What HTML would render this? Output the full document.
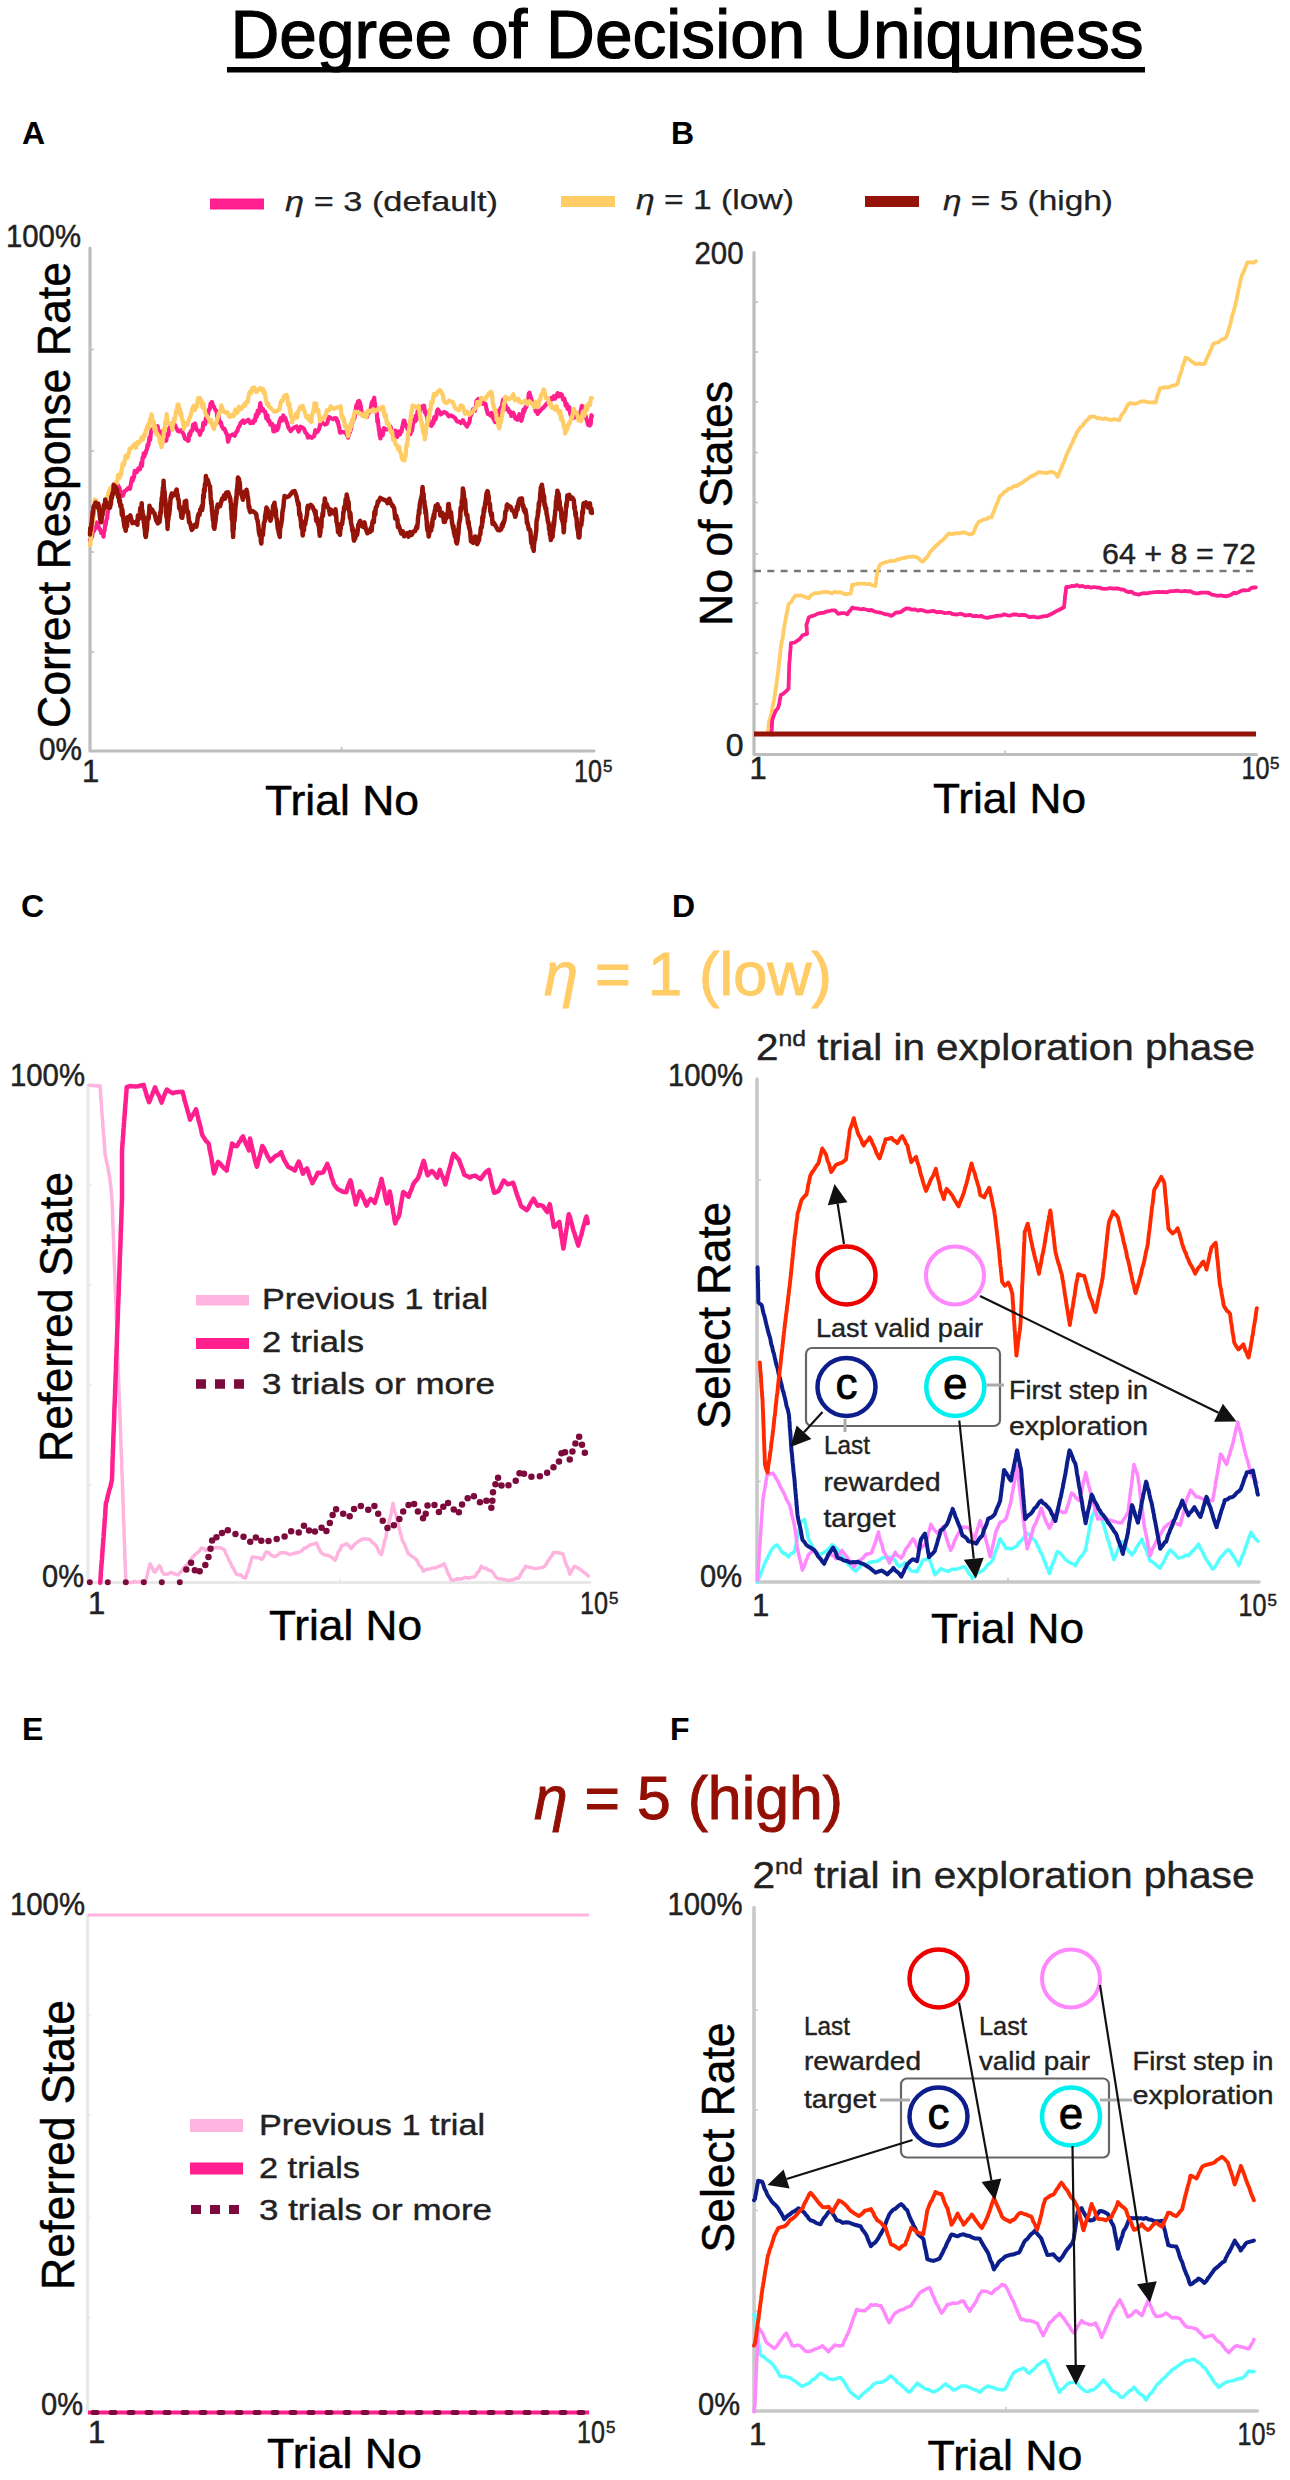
<!DOCTYPE html>
<html><head><meta charset="utf-8"><style>
html,body{margin:0;padding:0;background:#fff;}
svg{display:block;font-family:"Liberation Sans", sans-serif;}
</style></head><body>
<svg width="1290" height="2480" viewBox="0 0 1290 2480">
<rect width="1290" height="2480" fill="#fff"/>
<text x="230.5" y="58" font-size="68" fill="#000" text-anchor="start" textLength="913" lengthAdjust="spacingAndGlyphs" stroke="#000" stroke-width="1.2">Degree of Decision Uniquness</text>
<rect x="227" y="67" width="918" height="5.5" fill="#000"/>
<text x="22" y="144" font-size="32" fill="#000" text-anchor="start" font-weight="bold">A</text>
<text x="671" y="144" font-size="32" fill="#000" text-anchor="start" font-weight="bold">B</text>
<text x="21" y="917" font-size="32" fill="#000" text-anchor="start" font-weight="bold">C</text>
<text x="672" y="917" font-size="32" fill="#000" text-anchor="start" font-weight="bold">D</text>
<text x="22" y="1740" font-size="32" fill="#000" text-anchor="start" font-weight="bold">E</text>
<text x="670" y="1740" font-size="32" fill="#000" text-anchor="start" font-weight="bold">F</text>
<rect x="210" y="198.5" width="54" height="11" fill="#ff1f8e"/>
<text x="285" y="211" font-size="28" fill="#222" text-anchor="start" textLength="213" lengthAdjust="spacingAndGlyphs" stroke="#222" stroke-width="0.25"><tspan font-style="italic">η</tspan> = 3 (default)</text>
<rect x="561" y="196" width="54" height="11" fill="#ffcc66"/>
<text x="636" y="209" font-size="28" fill="#222" text-anchor="start" textLength="158" lengthAdjust="spacingAndGlyphs" stroke="#222" stroke-width="0.25"><tspan font-style="italic">η</tspan> = 1 (low)</text>
<rect x="865" y="196" width="54" height="11" fill="#951409"/>
<text x="943" y="209.5" font-size="28" fill="#222" text-anchor="start" textLength="170" lengthAdjust="spacingAndGlyphs" stroke="#222" stroke-width="0.25"><tspan font-style="italic">η</tspan> = 5 (high)</text>
<path d="M90,248 L90,751 L594,751" fill="none" stroke="#bdbdbd" stroke-width="3.2" stroke-linejoin="round" stroke-linecap="round"/>
<line x1="90" y1="349.5" x2="94" y2="349.5" stroke="#bdbdbd" stroke-width="1.5" stroke-linecap="butt"/>
<line x1="90" y1="451" x2="94" y2="451" stroke="#bdbdbd" stroke-width="1.5" stroke-linecap="butt"/>
<line x1="90" y1="552" x2="94" y2="552" stroke="#bdbdbd" stroke-width="1.5" stroke-linecap="butt"/>
<line x1="90" y1="652" x2="94" y2="652" stroke="#bdbdbd" stroke-width="1.5" stroke-linecap="butt"/>
<line x1="341.5" y1="751" x2="341.5" y2="747" stroke="#bdbdbd" stroke-width="1.5" stroke-linecap="butt"/>
<text x="81" y="247" font-size="32" fill="#222" text-anchor="end" textLength="75" lengthAdjust="spacingAndGlyphs" stroke="#222" stroke-width="0.5">100%</text>
<text x="82" y="760" font-size="32" fill="#222" text-anchor="end" textLength="43" lengthAdjust="spacingAndGlyphs" stroke="#222" stroke-width="0.5">0%</text>
<text x="82" y="782" font-size="31" fill="#222" text-anchor="start" stroke="#222" stroke-width="0.5">1</text>
<text x="574" y="782" font-size="31" fill="#222" text-anchor="start" textLength="28" lengthAdjust="spacingAndGlyphs" stroke="#222" stroke-width="0.5">10</text>
<text x="603" y="772" font-size="17" fill="#222" text-anchor="start" stroke="#222" stroke-width="0.5">5</text>
<text x="265" y="814.5" font-size="43" fill="#000" text-anchor="start" textLength="154" lengthAdjust="spacingAndGlyphs" stroke="#000" stroke-width="0.5">Trial No</text>
<text x="69.5" y="728" font-size="46" fill="#000" text-anchor="start" textLength="466" lengthAdjust="spacingAndGlyphs" transform="rotate(-90 69.5 728)" stroke="#000" stroke-width="0.5">Correct Response Rate</text>
<polyline points="90.0,540.2 91.0,538.6 92.1,536.5 93.1,529.1 94.1,530.9 95.1,528.0 96.1,527.1 97.1,522.5 98.1,525.0 99.1,528.8 100.1,529.2 101.1,532.9 102.1,531.9 103.1,534.3 103.5,536.7 103.9,532.6 104.2,531.3 104.6,530.8 105.0,526.1 105.3,522.0 105.7,525.1 106.1,521.7 106.4,520.2 106.8,517.9 107.2,518.3 107.5,512.1 107.9,512.8 108.3,508.1 108.6,507.5 109.0,506.1 109.4,501.6 109.7,498.0 110.1,498.7 110.5,498.4 110.8,495.5 111.2,492.5 112.0,491.8 112.8,486.6 113.6,484.6 114.4,483.6 115.2,485.0 116.2,482.7 117.2,484.1 118.3,486.0 119.3,487.6 120.3,491.3 121.3,495.4 122.9,495.9 124.5,491.3 126.1,490.3 127.7,488.6 129.3,487.5 130.0,488.8 130.7,485.1 131.4,481.1 132.0,478.0 132.7,480.7 133.4,478.2 134.0,477.0 134.7,470.9 135.4,471.0 136.9,472.1 138.4,468.3 139.9,469.3 141.4,462.3 142.0,466.0 142.6,457.5 143.2,458.0 143.7,453.3 144.3,456.7 144.9,453.9 145.5,453.9 146.1,450.7 146.8,449.7 147.5,444.8 148.2,445.9 148.8,442.2 149.5,437.4 150.2,439.8 150.8,433.6 151.5,430.3 153.5,428.1 155.5,429.5 157.6,426.2 158.7,433.1 159.9,435.0 161.0,431.6 162.2,432.5 163.3,437.2 164.5,436.4 165.6,440.8 166.3,440.6 167.0,434.7 167.6,433.9 168.3,435.2 169.0,430.0 169.7,427.3 170.3,429.1 171.0,426.5 171.7,425.1 173.3,425.3 174.9,424.9 176.5,428.5 178.1,431.1 179.7,431.4 181.1,430.2 182.4,432.3 183.8,434.8 185.1,439.0 186.4,439.2 187.8,440.8 188.5,440.7 189.3,433.7 190.1,435.3 190.8,431.2 191.6,430.8 192.3,430.7 193.1,424.6 193.8,427.5 195.0,423.4 196.3,428.8 197.5,430.7 198.7,430.5 199.9,434.8 200.7,432.2 201.6,430.0 202.5,429.9 203.3,422.9 204.2,423.5 205.1,424.3 205.9,417.8 206.6,420.9 207.3,414.2 207.9,415.5 208.6,410.0 209.3,409.9 210.0,407.7 210.6,403.3 211.3,405.6 212.0,402.0 212.9,405.5 213.8,406.5 214.7,408.6 215.6,410.4 216.5,410.8 217.4,417.1 218.2,413.4 219.1,420.9 220.0,422.9 220.9,422.3 221.8,426.3 222.7,427.6 223.6,429.1 224.5,428.9 225.4,431.1 226.3,433.4 227.2,435.0 228.1,441.7 229.7,436.1 231.3,435.2 232.9,434.3 234.6,435.8 236.2,432.2 237.3,431.1 238.5,427.2 239.6,425.7 240.8,422.6 241.9,421.8 243.1,420.4 244.2,422.8 246.2,421.3 248.3,419.6 250.3,423.1 252.3,421.7 253.2,422.8 254.1,419.9 255.0,420.8 255.9,414.6 256.8,416.7 257.7,410.5 258.6,413.6 259.5,409.2 260.3,403.0 261.6,410.4 262.8,408.7 264.0,411.3 265.2,411.8 266.4,418.6 267.4,415.2 268.4,421.5 269.4,420.8 270.4,424.6 271.4,423.6 272.4,423.9 273.4,431.5 274.5,431.5 275.7,426.3 277.0,430.2 278.2,428.0 279.5,421.1 280.8,418.2 282.0,420.6 283.3,415.5 284.5,417.9 285.4,418.1 286.3,421.8 287.1,422.8 288.0,426.2 288.9,428.6 289.7,429.1 290.6,431.0 292.6,428.8 294.6,427.2 296.6,426.5 298.6,431.5 300.7,426.7 302.7,427.9 304.0,428.8 305.4,432.6 306.7,433.6 308.0,437.6 309.4,436.3 310.7,437.5 311.9,437.8 313.0,436.7 314.2,436.2 315.3,430.2 316.5,432.5 317.6,431.5 318.8,429.7 320.8,422.6 322.8,423.1 324.8,424.6 326.9,423.8 328.9,417.1 330.9,418.2 332.9,419.2 334.9,418.1 335.6,418.5 336.4,418.3 337.1,421.7 337.8,421.3 338.5,425.1 339.3,427.9 340.0,432.6 341.6,432.2 343.2,432.2 344.8,432.2 346.4,433.9 348.1,437.6 348.7,434.0 349.2,430.1 349.8,432.6 350.4,428.9 351.0,429.6 351.6,424.6 352.2,423.2 352.8,419.8 353.4,419.1 354.0,419.2 354.6,417.6 355.2,413.4 355.8,409.7 356.4,405.2 357.0,408.6 357.5,403.4 358.1,401.3 359.0,400.9 359.9,402.5 360.8,406.8 361.7,412.7 362.6,412.8 363.5,414.4 364.4,415.9 365.3,414.9 366.2,416.0 367.1,417.0 368.0,411.2 368.9,412.9 369.8,410.3 370.7,408.5 371.6,403.6 372.5,401.2 373.4,402.0 374.3,397.7 374.6,403.2 374.9,402.9 375.3,407.0 375.6,410.0 375.9,411.0 376.3,412.5 376.6,412.1 377.0,415.2 377.3,421.6 377.6,418.7 378.0,420.8 378.3,424.3 378.6,426.7 379.0,430.4 379.3,429.0 379.6,435.6 380.0,431.1 380.3,438.5 381.5,434.9 382.7,435.2 383.9,428.0 385.1,429.7 386.4,429.5 388.4,428.9 390.4,426.3 392.4,433.3 393.9,435.2 395.4,430.7 396.9,437.2 398.4,433.5 399.2,431.5 400.0,434.5 400.7,431.9 401.5,431.6 402.2,427.3 403.0,424.4 403.7,420.7 404.5,420.8 405.5,425.8 406.5,425.4 407.5,429.0 408.5,426.3 409.5,432.0 410.5,434.0 411.3,427.4 412.1,430.6 412.8,424.1 413.6,422.4 414.3,419.3 415.1,421.4 415.8,415.8 416.6,419.6 417.6,410.8 418.6,414.4 419.6,412.0 420.6,408.7 421.6,406.7 422.6,406.3 423.4,407.2 424.1,405.7 424.8,412.3 425.6,411.2 426.3,414.8 427.0,416.4 427.8,421.1 428.5,419.7 429.2,424.8 430.0,421.4 430.7,425.1 431.6,425.8 432.5,423.6 433.4,423.3 434.3,417.1 435.2,419.5 436.1,417.7 437.0,411.3 437.9,409.5 438.8,410.8 440.8,414.4 442.8,412.6 444.8,412.1 446.8,413.5 448.8,416.4 450.9,415.4 452.9,416.5 454.9,417.9 456.9,421.3 458.9,421.6 460.9,423.1 462.9,420.3 465.0,423.8 467.0,426.6 467.8,424.0 468.7,423.8 469.6,421.6 470.4,414.2 471.3,415.0 472.2,412.1 473.0,409.2 473.9,409.4 474.8,410.9 475.6,407.5 476.5,400.9 477.3,400.1 478.2,399.1 479.1,400.8 480.3,399.6 481.6,399.3 482.8,403.8 484.1,403.4 485.4,403.7 486.6,409.4 487.9,413.9 489.1,414.2 490.4,415.5 491.6,413.0 492.8,417.5 494.0,419.7 495.2,422.1 496.1,417.9 497.0,413.2 497.9,417.3 498.8,410.6 499.7,411.9 500.6,408.0 501.5,408.2 502.4,403.1 503.3,399.3 504.4,403.4 505.6,405.5 506.7,409.4 507.9,408.4 509.0,412.0 510.2,411.7 511.3,415.9 513.3,412.8 515.3,418.5 517.4,419.8 519.4,414.2 521.4,420.8 522.1,418.2 522.7,415.6 523.4,409.5 524.1,411.9 524.8,410.1 525.4,407.1 526.1,407.4 526.8,405.3 527.4,401.1 528.1,401.1 528.8,393.6 529.5,392.7 530.4,396.3 531.2,398.3 532.1,403.3 533.0,403.1 533.9,405.0 534.8,407.1 535.7,411.3 536.6,409.5 537.5,413.9 539.5,411.7 541.6,409.1 543.6,407.5 545.6,405.0 547.6,402.8 548.9,403.3 550.1,401.3 551.4,398.0 552.6,399.0 553.9,396.3 555.2,398.6 556.4,395.8 557.7,393.2 559.0,396.2 560.4,393.9 561.7,394.4 563.0,399.6 564.4,398.6 565.7,405.6 566.6,403.7 567.5,408.9 568.3,406.4 569.2,407.4 570.1,413.1 570.9,415.6 571.8,414.6 573.5,417.9 575.1,416.9 576.8,413.6 578.5,414.3 580.2,412.9 581.9,405.8 582.8,411.8 583.7,414.0 584.5,415.9 585.4,415.2 586.3,418.6 587.2,420.9 588.1,424.8 589.0,421.2 589.9,425.5 590.3,423.0 590.7,424.4 591.1,417.6 591.5,415.2 591.9,416.3" fill="none" stroke="#ff1f8e" stroke-width="4.2" stroke-linecap="round" stroke-linejoin="round"/>
<polyline points="90.0,544.9 90.3,543.7 90.5,544.2 90.7,539.0 91.0,537.3 91.2,535.8 91.4,531.0 91.6,531.2 91.9,530.1 92.1,529.2 92.3,522.3 92.6,521.7 92.8,518.2 93.0,521.2 93.2,518.4 93.5,511.8 93.7,516.4 93.9,514.3 94.2,510.1 94.4,507.8 94.6,502.6 94.8,499.6 95.1,501.1 95.8,499.9 96.6,502.8 97.3,505.2 98.1,505.7 98.9,510.8 99.6,512.6 100.4,517.4 101.1,517.2 101.8,516.0 102.5,513.0 103.1,512.1 103.8,508.7 104.5,505.4 105.2,508.4 105.8,506.4 106.5,503.3 107.2,500.4 107.8,495.6 108.5,493.0 109.2,491.4 110.3,488.1 111.4,491.1 112.5,486.8 113.7,488.1 114.8,483.1 115.9,485.3 117.0,482.8 118.1,475.0 119.3,474.7 119.9,477.6 120.6,472.5 121.3,474.1 122.0,468.0 122.6,463.7 123.3,465.6 124.1,464.6 125.0,459.0 125.8,455.7 126.7,455.4 127.5,457.8 128.3,454.4 129.8,448.5 131.4,448.1 132.9,445.7 134.4,444.1 135.9,447.9 137.4,442.2 138.8,443.3 140.2,440.9 141.6,437.5 143.0,439.7 144.5,433.9 145.2,435.4 145.9,429.7 146.6,429.8 147.3,426.4 148.0,424.7 148.7,427.6 149.4,424.4 150.1,418.9 150.8,421.0 151.5,414.3 152.1,417.6 152.7,422.8 153.2,423.3 153.8,421.5 154.4,429.8 155.0,426.4 155.5,428.7 156.3,434.3 157.1,433.2 157.8,435.0 158.6,435.5 159.3,437.6 160.1,443.1 160.8,442.7 161.6,447.2 161.9,443.6 162.3,442.2 162.6,443.7 162.9,438.3 163.3,437.0 163.6,437.0 163.9,430.2 164.3,428.0 164.6,431.2 164.9,428.6 165.3,422.6 165.6,420.2 166.0,422.0 166.3,421.4 166.6,414.2 167.5,421.4 168.3,423.0 169.1,423.1 170.0,423.8 170.8,423.6 171.7,425.1 172.3,429.6 172.8,422.5 173.4,423.8 174.0,418.6 174.6,420.6 175.2,417.0 175.8,412.8 176.4,410.0 177.0,411.8 177.5,405.2 178.1,404.3 178.7,404.6 179.1,408.7 179.6,409.0 180.0,408.7 180.4,415.2 180.8,412.2 181.2,412.9 181.7,416.7 182.1,419.9 182.5,419.2 182.9,422.1 183.3,425.4 183.8,428.9 184.8,423.8 185.8,423.4 186.8,425.1 187.8,423.7 188.8,419.4 189.8,417.6 190.8,415.1 191.8,410.1 192.8,407.6 193.8,405.6 194.8,410.1 195.9,406.8 196.9,406.8 197.9,398.4 198.9,400.9 199.9,398.0 200.7,401.8 201.6,400.9 202.5,407.7 203.3,403.2 204.2,408.5 205.1,411.9 205.9,415.0 206.9,415.7 207.9,417.2 209.0,419.6 210.0,422.2 211.0,420.0 212.0,424.1 213.0,427.4 214.0,429.0 214.8,423.8 215.6,424.4 216.4,422.9 217.2,418.8 218.0,417.2 218.8,413.4 219.6,412.8 220.4,411.0 221.2,405.3 222.1,407.2 223.4,411.3 224.7,412.2 226.1,412.8 227.4,412.1 228.8,416.2 230.1,416.8 231.9,414.6 233.6,416.1 235.4,409.6 237.2,413.0 238.9,406.7 240.7,409.4 242.5,407.3 244.2,404.3 245.1,405.8 246.0,402.6 246.9,401.6 247.8,402.0 248.7,395.5 249.6,392.0 250.5,392.3 251.4,393.1 252.3,388.0 254.3,387.4 256.3,392.1 258.3,390.0 260.3,388.1 262.4,390.8 263.1,388.9 263.8,393.3 264.6,392.0 265.3,395.6 266.0,400.3 266.8,403.1 267.5,404.8 268.2,403.4 269.0,406.8 269.7,406.9 270.4,407.7 272.4,409.7 274.5,411.6 276.5,411.2 278.5,409.7 279.5,409.6 280.5,403.1 281.5,400.6 282.5,400.8 283.5,397.8 284.5,395.6 285.5,395.3 286.6,395.0 287.0,396.1 287.4,396.8 287.8,402.5 288.3,405.5 288.7,403.9 289.1,403.2 289.6,404.9 290.0,412.8 290.4,409.0 290.9,415.7 291.3,416.8 291.7,417.0 292.2,422.4 292.6,419.0 293.7,418.0 294.8,418.4 296.0,413.6 297.1,417.5 298.2,411.5 299.3,409.1 300.4,406.6 301.6,408.9 302.7,405.8 303.6,409.1 304.5,411.3 305.4,414.4 306.3,417.5 307.2,417.6 308.0,416.2 308.9,420.1 309.8,420.1 310.7,420.9 311.1,422.1 311.5,421.8 311.8,416.0 312.2,414.7 312.6,413.2 312.9,413.6 313.3,410.4 313.7,409.0 314.0,408.0 314.4,403.4 314.8,404.2 315.4,407.0 316.1,403.3 316.8,411.2 317.5,411.8 318.1,409.7 318.8,413.9 319.5,417.2 320.1,421.2 320.8,419.4 322.0,418.8 323.2,418.9 324.4,416.3 325.7,415.4 326.9,410.0 328.9,410.3 330.9,406.2 332.9,408.8 334.9,408.4 337.5,407.2 340.0,407.7 340.6,406.2 341.2,413.0 341.7,415.6 342.3,417.6 342.9,416.5 343.5,420.3 344.0,419.1 344.6,425.2 345.2,426.8 345.8,425.3 346.3,425.5 346.9,430.0 347.5,432.8 348.1,436.3 348.7,432.3 349.4,427.1 350.1,430.5 350.7,423.3 351.4,426.4 352.1,420.0 352.8,419.2 353.4,420.3 354.1,413.8 354.8,411.8 355.5,412.4 356.1,411.8 358.1,413.4 360.2,413.2 362.2,415.8 364.2,413.4 366.2,417.4 368.0,410.5 369.8,410.5 371.6,411.8 373.4,409.2 375.2,411.4 377.0,409.9 378.7,408.2 380.5,409.5 382.3,406.6 383.0,406.9 383.7,409.4 384.3,414.7 385.0,417.1 385.7,414.2 386.4,420.7 387.0,423.6 387.7,422.5 388.4,424.9 389.0,424.3 389.7,428.6 390.4,430.4 391.3,433.1 392.1,431.1 393.0,439.7 393.8,438.6 394.7,439.8 395.6,444.6 396.4,444.9 397.3,446.2 398.2,449.4 399.1,446.8 400.0,451.9 400.9,452.9 401.8,458.4 402.7,460.0 403.6,457.2 404.5,460.4 404.8,456.0 405.1,456.1 405.4,456.8 405.7,455.4 406.0,450.4 406.3,447.2 406.6,444.4 406.9,445.3 407.2,445.5 407.5,437.9 407.8,440.4 408.1,433.1 408.4,432.3 408.7,430.5 409.0,431.7 409.3,427.1 409.6,425.3 409.9,425.2 410.2,419.6 410.5,421.9 410.8,415.7 411.1,416.4 411.4,412.5 411.7,410.1 412.0,410.4 412.3,407.8 412.6,405.3 414.6,406.3 416.6,407.8 418.6,405.8 419.0,408.2 419.5,413.2 419.9,415.2 420.3,416.5 420.8,420.8 421.2,421.1 421.6,424.8 422.1,422.5 422.5,428.0 422.9,430.5 423.4,433.2 423.8,431.1 424.2,433.1 424.7,439.4 425.1,432.4 425.5,435.9 425.9,433.1 426.3,425.8 426.8,424.5 427.2,425.9 427.6,420.6 428.0,417.5 428.5,420.6 428.9,415.7 429.3,416.3 429.7,409.6 430.2,409.6 430.6,409.5 431.0,402.8 431.4,402.1 431.9,403.4 432.3,403.0 432.7,401.4 433.9,393.8 435.1,395.0 436.3,395.1 437.6,391.7 438.8,391.4 439.8,389.9 440.8,391.1 441.8,393.4 442.8,394.9 443.8,400.5 444.8,402.3 446.8,403.2 448.8,400.7 450.9,401.5 452.9,402.1 454.9,407.6 456.9,409.6 458.9,410.2 460.9,405.4 462.9,406.4 465.0,413.8 467.0,411.6 469.0,414.9 471.0,413.1 472.3,412.3 473.5,410.8 474.8,408.5 476.0,407.9 477.3,402.0 478.6,405.1 479.8,404.3 481.1,397.9 483.1,398.6 485.1,399.4 487.1,395.9 489.1,393.2 491.2,391.8 491.7,396.2 492.2,394.7 492.7,402.9 493.2,404.3 493.7,405.6 494.2,408.7 494.7,409.1 495.2,409.6 495.7,412.9 496.2,414.3 496.7,419.7 497.2,420.4 497.7,418.6 498.2,425.2 498.7,426.1 499.2,428.3 499.7,426.5 500.2,421.7 500.6,423.1 501.1,421.0 501.6,417.6 502.0,416.1 502.5,414.1 502.9,409.6 503.4,409.8 503.9,403.2 504.3,403.1 504.8,402.0 505.3,396.7 507.3,398.1 509.3,399.1 511.3,398.0 513.3,394.2 514.9,400.4 516.6,399.7 518.2,398.6 519.8,402.1 521.4,402.7 523.4,401.9 525.4,400.4 527.4,404.2 529.5,401.2 531.1,402.8 532.7,404.4 534.3,407.1 535.9,401.7 537.5,407.0 538.4,405.9 539.2,400.5 540.1,399.5 541.0,395.0 541.8,394.0 542.7,393.2 543.6,389.3 544.7,392.1 545.9,398.4 547.0,397.6 548.2,399.1 549.3,404.0 550.5,402.9 551.6,407.7 553.2,406.8 554.9,409.6 556.5,406.1 558.1,411.3 559.7,414.1 560.3,411.1 560.9,419.3 561.5,415.9 562.1,420.1 562.7,420.0 563.3,424.3 563.9,427.1 564.5,425.3 565.1,433.5 565.7,431.8 566.5,430.6 567.3,429.1 568.2,425.4 569.0,422.8 569.8,423.4 570.6,420.7 571.4,416.8 572.2,417.8 573.0,412.8 573.8,408.8 575.0,412.1 576.2,412.3 577.4,414.7 578.6,420.5 579.8,419.5 580.9,421.2 581.9,418.4 582.9,411.6 583.9,416.3 584.9,414.2 585.9,406.2 586.9,410.2 587.9,405.0 588.9,403.5 589.9,405.1 590.9,398.2 591.9,398.1" fill="none" stroke="#ffcc66" stroke-width="4.2" stroke-linecap="round" stroke-linejoin="round"/>
<polyline points="90.0,534.6 90.3,527.9 90.6,530.1 90.9,529.9 91.2,527.8 91.5,523.2 91.8,522.1 92.1,518.0 92.3,517.3 92.6,511.9 92.9,514.5 93.2,511.8 93.5,507.2 93.8,506.0 94.1,506.9 95.6,502.5 97.1,504.6 97.5,506.7 97.9,507.7 98.3,503.7 98.7,505.6 99.1,509.3 99.5,511.9 99.9,516.7 100.3,519.7 100.7,519.6 101.1,522.2 101.6,519.7 102.0,513.3 102.5,515.3 102.9,510.7 103.4,510.3 103.8,505.1 104.3,508.2 104.7,508.2 105.2,499.5 106.5,505.6 107.8,503.2 109.2,507.8 109.6,504.3 110.0,507.8 110.4,504.8 110.9,504.1 111.3,496.7 111.7,498.7 112.1,496.5 112.5,493.0 113.0,494.2 113.4,489.8 113.8,485.1 114.2,486.5 114.9,486.7 115.6,486.5 116.2,491.8 116.9,489.3 117.6,494.5 118.3,497.4 118.8,494.9 119.3,502.1 119.8,499.7 120.3,506.2 120.8,505.7 121.3,505.2 121.8,515.0 122.3,509.5 122.6,512.3 123.0,517.1 123.3,517.0 123.6,521.3 124.0,522.9 124.3,525.7 124.6,527.5 125.0,527.5 125.3,528.9 125.7,530.7 126.2,526.6 126.6,525.3 127.0,526.4 127.5,517.2 127.9,517.3 128.3,517.6 130.3,515.5 132.4,523.1 134.4,522.3 136.4,523.6 136.9,520.7 137.4,524.8 137.9,515.4 138.4,519.6 138.9,516.7 139.4,516.2 139.9,512.6 140.4,507.8 140.9,507.4 141.4,508.3 141.7,503.3 142.0,511.8 142.2,512.4 142.5,510.6 142.8,518.8 143.0,515.5 143.3,515.1 143.6,519.2 143.9,523.2 144.1,521.3 144.4,527.9 144.7,528.7 144.9,529.8 145.2,535.2 145.5,536.1 145.8,536.9 146.1,534.1 146.4,532.0 146.7,530.6 147.0,527.9 147.3,523.0 147.6,517.6 147.9,518.6 148.3,518.0 148.6,518.8 148.9,514.3 149.2,511.6 149.5,505.7 150.8,512.2 152.0,509.3 153.3,512.2 154.5,513.4 156.2,520.3 157.9,523.3 159.6,521.8 159.8,515.8 160.0,519.0 160.2,512.4 160.5,514.7 160.7,512.4 160.9,512.6 161.1,504.3 161.4,502.8 161.6,501.5 161.8,497.5 162.0,502.5 162.3,497.9 162.5,491.7 162.7,492.7 162.9,487.6 163.2,492.5 163.4,485.7 163.6,480.8 163.8,488.7 164.0,487.5 164.2,492.0 164.4,495.1 164.6,491.5 164.8,497.3 165.0,502.5 165.2,498.7 165.4,500.9 165.6,506.4 165.8,503.4 166.0,511.6 166.2,513.4 166.4,516.6 166.6,517.7 166.8,517.7 167.0,518.8 167.2,521.4 167.4,524.2 167.6,528.9 167.9,520.3 168.1,521.0 168.4,518.7 168.6,515.0 168.9,512.3 169.1,515.3 169.4,511.7 169.7,510.5 169.9,505.0 170.2,504.8 170.4,500.2 170.7,498.1 170.9,496.0 171.2,498.1 171.4,497.7 171.7,493.4 174.2,495.1 176.7,489.5 177.1,495.0 177.5,494.0 178.0,499.1 178.4,498.9 178.8,501.0 179.2,508.3 179.6,507.4 180.1,506.9 180.5,510.9 180.9,511.3 181.3,517.4 181.7,516.2 182.2,517.8 182.8,513.8 183.3,512.2 183.8,509.9 184.3,507.7 184.8,501.5 185.3,505.3 185.8,501.8 186.1,500.7 186.4,504.9 186.8,510.6 187.1,510.2 187.5,511.4 187.8,513.3 188.1,511.6 188.5,517.0 188.8,518.5 189.1,522.2 189.5,522.0 189.8,522.3 191.8,529.9 193.8,527.1 194.6,524.9 195.4,524.6 196.3,526.7 197.1,522.7 197.9,516.2 198.7,513.8 199.5,515.0 200.3,509.5 201.1,508.8 201.9,505.9 202.2,509.9 202.4,508.0 202.7,505.9 203.0,502.2 203.2,495.2 203.5,495.1 203.8,497.5 204.0,489.2 204.3,490.8 204.6,491.2 204.9,484.9 205.1,483.6 205.4,483.9 205.7,482.0 205.9,476.0 206.7,483.1 207.5,479.5 208.3,482.1 209.2,485.3 210.0,486.4 210.2,490.5 210.4,491.7 210.6,496.7 210.8,499.4 211.0,501.1 211.2,503.8 211.4,501.0 211.7,506.2 211.9,509.3 212.1,511.7 212.3,510.4 212.5,516.2 212.7,513.9 212.9,520.2 213.1,520.4 213.4,517.6 213.6,526.4 213.8,527.3 214.0,527.5 214.4,528.8 214.7,526.2 215.1,523.5 215.5,521.2 215.8,518.8 216.2,512.0 216.6,513.7 216.9,507.1 217.3,509.0 217.7,504.4 218.0,506.6 220.0,506.3 222.1,498.6 223.1,499.4 224.1,495.2 225.1,498.7 226.1,492.8 228.1,492.3 230.1,498.0 230.3,498.6 230.5,501.1 230.6,502.5 230.8,502.2 231.0,503.9 231.1,509.8 231.3,508.0 231.5,512.1 231.6,515.6 231.8,519.4 232.0,516.3 232.1,520.1 232.3,520.0 232.5,523.0 232.6,530.9 232.8,531.0 233.0,527.7 233.1,537.0 233.3,529.8 233.5,529.7 233.7,529.5 233.9,522.9 234.0,521.4 234.2,519.6 234.4,519.9 234.6,520.8 234.8,512.3 234.9,516.8 235.1,511.6 235.3,508.7 235.5,503.6 235.7,506.7 235.8,499.6 236.0,503.7 236.2,497.1 236.4,499.4 236.6,496.9 236.7,491.8 236.9,489.2 237.1,489.4 237.3,486.5 237.5,484.1 237.6,486.7 237.8,479.5 238.0,477.6 238.2,478.7 238.5,478.3 238.9,478.8 239.2,482.1 239.5,481.7 239.9,484.1 240.2,491.4 240.5,490.6 240.9,492.5 241.2,494.5 241.5,494.4 241.9,495.9 242.2,497.0 242.9,499.7 243.6,495.4 244.2,496.3 244.9,491.4 245.6,493.1 246.2,492.3 246.6,489.8 246.9,493.8 247.2,492.2 247.6,497.7 247.9,497.2 248.3,500.5 248.6,505.5 248.9,507.9 249.3,506.3 249.6,510.4 249.9,511.4 250.3,512.1 252.3,511.0 254.3,512.1 256.3,514.2 256.7,518.4 257.2,519.4 257.6,520.6 258.0,523.5 258.4,525.9 258.8,531.2 259.3,533.6 259.7,535.5 260.1,535.7 260.5,533.6 260.9,541.8 261.4,543.5 261.7,536.1 262.0,535.1 262.3,534.8 262.6,530.9 262.9,535.1 263.2,530.2 263.6,527.7 263.9,523.1 264.2,522.3 264.5,521.5 264.8,521.3 265.1,515.8 265.5,514.4 265.8,511.7 266.1,510.9 266.4,507.6 267.4,509.0 268.4,513.5 269.4,518.3 270.4,520.7 271.1,518.6 271.8,511.9 272.4,514.6 273.1,506.0 273.8,505.1 274.5,502.7 274.8,508.0 275.1,507.0 275.5,509.4 275.8,510.0 276.1,516.6 276.5,518.1 276.8,518.8 277.1,522.0 277.5,526.1 277.8,528.8 278.2,524.9 278.5,532.0 278.8,532.1 279.2,534.9 279.5,532.4 279.8,536.9 280.0,530.1 280.3,525.9 280.6,527.3 280.8,523.7 281.1,524.9 281.4,522.2 281.6,521.6 281.9,520.0 282.1,517.3 282.4,512.0 282.7,511.1 282.9,509.0 283.2,508.6 283.5,505.8 283.7,503.7 284.0,499.6 284.3,498.8 284.5,496.0 286.6,497.2 288.6,496.5 290.6,494.3 292.6,491.7 294.6,491.0 296.6,496.7 296.9,498.5 297.2,499.6 297.5,502.0 297.8,501.3 298.1,504.9 298.4,505.0 298.7,503.3 299.0,509.3 299.3,514.9 299.7,512.0 300.0,516.4 300.3,514.1 300.6,520.4 300.9,520.1 301.2,526.9 301.5,525.3 301.8,528.7 302.1,527.8 302.4,529.9 302.7,535.5 303.1,531.2 303.5,530.1 304.0,530.2 304.4,522.0 304.8,522.0 305.3,524.2 305.7,520.3 306.1,519.5 306.6,516.0 307.0,514.9 307.4,507.6 307.9,505.8 308.3,509.1 308.7,506.8 310.7,504.8 312.8,507.3 314.8,512.0 315.2,514.2 315.6,511.0 316.0,518.9 316.4,521.0 316.9,517.9 317.3,521.2 317.7,520.5 318.1,524.5 318.5,524.7 319.0,527.4 319.4,532.3 319.8,535.8 320.1,530.5 320.4,533.0 320.8,523.9 321.1,526.5 321.4,527.1 321.7,518.0 322.0,516.8 322.3,516.7 322.6,513.0 323.0,515.9 323.3,511.2 323.6,505.0 323.9,505.6 324.2,504.3 324.5,504.0 324.8,498.6 325.9,505.2 326.9,504.3 327.9,507.7 328.9,508.5 329.9,514.4 330.9,509.6 332.9,512.9 334.9,511.7 335.2,514.7 335.5,509.3 335.9,512.7 336.2,515.9 336.5,522.0 336.8,522.5 337.1,522.9 337.4,526.3 337.7,527.2 338.0,532.2 338.3,530.9 338.6,532.5 339.0,532.6 340.0,534.8 340.4,528.0 340.7,528.9 341.1,523.9 341.5,525.1 341.9,524.3 342.2,523.8 342.6,519.8 343.0,518.7 343.3,512.3 343.7,512.1 344.1,507.2 344.5,509.3 344.8,505.9 345.2,505.1 345.6,499.3 345.9,504.7 346.3,501.7 346.7,494.4 347.1,497.7 347.4,497.5 347.7,500.5 348.0,501.4 348.3,506.5 348.6,501.9 348.9,509.9 349.2,511.0 349.5,512.6 349.8,517.0 350.1,518.7 350.4,513.1 350.7,517.0 351.0,522.6 351.3,523.8 351.7,525.7 352.0,527.5 352.3,530.9 352.6,528.1 352.9,530.8 353.2,533.4 353.5,537.2 353.8,539.6 354.1,540.7 354.7,538.0 355.3,538.2 355.9,532.1 356.5,530.9 357.1,535.0 357.7,530.8 358.3,524.6 358.9,524.4 359.6,521.5 360.2,520.9 361.6,525.7 363.0,526.9 364.5,522.4 365.9,529.2 367.4,533.3 368.8,530.7 370.2,531.8 370.7,528.6 371.2,527.6 371.7,530.5 372.2,523.8 372.8,521.1 373.3,520.3 373.8,522.3 374.3,513.1 374.8,511.0 375.3,514.6 375.8,507.3 376.3,507.1 376.8,506.3 377.3,504.5 377.8,501.4 378.3,502.2 380.3,497.9 382.3,498.9 384.3,499.9 386.0,500.6 387.6,503.2 389.2,498.7 390.8,502.6 392.4,506.0 393.0,505.7 393.5,507.5 394.1,507.8 394.6,511.9 395.2,518.6 395.7,516.3 396.3,515.6 396.8,519.8 397.4,519.2 397.9,527.2 398.4,524.7 399.9,529.3 401.3,533.5 402.8,531.4 404.2,536.3 405.6,534.5 407.1,533.1 408.5,536.7 410.1,532.1 411.8,534.8 413.4,531.5 415.0,531.3 416.6,526.5 416.9,525.6 417.2,528.0 417.5,524.3 417.8,522.5 418.1,517.4 418.4,515.3 418.7,514.5 419.0,509.9 419.3,513.5 419.6,506.8 419.9,503.9 420.2,502.1 420.5,501.7 420.8,499.1 421.1,501.6 421.4,497.8 421.7,495.4 422.0,496.0 422.3,489.4 422.6,487.0 422.9,492.6 423.1,493.2 423.4,494.5 423.6,493.6 423.9,501.4 424.1,502.3 424.4,501.2 424.7,507.8 424.9,505.5 425.2,506.7 425.4,513.2 425.7,509.8 425.9,511.7 426.2,514.7 426.4,519.1 426.7,520.9 426.9,525.8 427.2,528.1 427.4,530.4 427.7,527.9 427.9,530.8 428.2,530.5 428.4,532.5 428.7,536.6 429.2,533.8 429.7,530.0 430.2,531.1 430.7,529.9 431.2,530.3 431.7,522.9 432.2,526.4 432.7,518.4 433.2,518.8 433.7,514.4 434.2,518.0 434.7,510.6 435.2,509.8 435.7,505.7 436.2,510.0 436.7,508.0 437.6,504.3 438.5,510.0 439.4,507.5 440.3,515.6 441.2,514.8 442.1,512.6 443.0,515.1 443.9,521.9 444.8,521.9 445.3,520.0 445.8,514.6 446.3,518.5 446.8,516.7 447.3,513.6 447.8,512.6 448.3,504.2 448.8,504.0 449.3,509.2 449.7,511.9 450.1,512.4 450.5,517.0 451.0,512.3 451.4,516.2 451.8,520.4 452.2,523.5 452.7,525.8 453.1,528.3 453.5,525.9 453.9,532.5 454.4,533.5 454.8,536.5 455.2,535.9 455.6,534.1 456.1,542.1 456.5,537.9 456.9,543.6 457.1,541.3 457.4,541.7 457.6,539.1 457.8,538.5 458.1,529.3 458.3,534.8 458.5,532.4 458.8,526.6 459.0,522.6 459.2,524.0 459.5,521.1 459.7,519.2 459.9,520.8 460.2,517.5 460.4,513.0 460.6,507.9 460.9,510.9 461.1,508.2 461.3,508.9 461.6,504.7 461.8,500.3 462.0,500.8 462.2,500.5 462.5,498.0 462.7,493.2 462.9,488.4 463.3,490.6 463.6,492.2 464.0,495.2 464.3,502.4 464.6,501.6 465.0,499.5 465.3,502.3 465.6,507.7 466.0,512.6 466.3,514.2 466.6,515.6 467.0,515.6 467.3,514.8 467.6,518.9 468.0,523.6 468.3,521.2 468.7,522.1 469.0,527.8 469.3,526.8 469.7,529.5 470.0,530.5 470.3,532.9 470.7,538.1 471.0,541.3 473.0,542.8 475.0,536.5 477.1,544.2 479.1,539.8 479.4,535.8 479.7,535.0 480.0,535.0 480.4,533.9 480.7,528.6 481.0,527.1 481.3,527.1 481.6,527.8 482.0,525.7 482.3,517.3 482.6,522.1 482.9,515.7 483.3,517.8 483.6,511.9 483.9,508.5 484.2,511.8 484.6,506.5 484.9,507.9 485.2,502.6 485.5,501.7 485.8,500.0 486.2,496.0 486.5,493.3 486.8,495.0 487.1,491.9 487.5,491.2 487.8,491.7 488.2,495.1 488.6,496.0 488.9,501.0 489.3,504.1 489.6,503.3 490.0,504.3 490.3,511.4 490.7,512.3 491.0,514.1 491.4,516.0 491.8,513.2 492.1,517.2 492.5,523.9 492.8,522.2 493.2,522.1 494.8,524.4 496.4,527.3 498.0,530.1 499.6,530.4 501.2,529.2 501.7,525.7 502.2,524.2 502.6,526.7 503.1,522.5 503.6,523.6 504.0,521.8 504.5,520.1 505.0,516.5 505.4,511.8 505.9,510.7 506.4,510.6 506.8,505.2 507.3,504.5 508.9,506.2 510.5,506.6 512.1,510.4 513.7,511.2 515.3,516.8 516.1,513.6 516.9,506.6 517.6,509.7 518.4,502.4 519.1,500.2 519.9,498.8 520.6,500.1 521.4,500.0 521.9,498.3 522.4,503.1 522.9,506.9 523.4,505.4 523.9,510.5 524.4,509.5 524.9,512.5 525.4,509.5 525.9,512.5 526.4,515.3 526.9,523.0 527.4,522.3 527.9,524.9 528.3,526.4 528.7,529.5 529.2,529.5 529.6,529.3 530.0,529.9 530.5,532.6 530.9,537.8 531.3,543.2 531.8,542.8 532.2,540.0 532.6,548.0 533.1,547.2 533.5,546.1 533.7,550.9 534.0,544.6 534.2,543.7 534.5,538.7 534.7,538.1 535.0,540.2 535.3,538.1 535.5,535.1 535.8,534.4 536.0,532.3 536.3,530.2 536.5,521.9 536.8,519.2 537.0,520.4 537.3,517.0 537.5,517.2 537.8,516.0 538.0,510.7 538.3,512.9 538.5,510.4 538.8,503.0 539.0,506.4 539.3,502.2 539.5,502.6 539.8,501.1 540.0,498.2 540.3,493.0 540.5,492.6 540.8,487.3 541.0,492.8 541.3,487.2 541.6,488.2 541.9,484.8 542.3,487.4 542.6,488.9 543.0,495.2 543.3,493.2 543.7,498.8 544.1,496.2 544.4,504.5 544.8,506.3 545.1,504.3 545.5,509.0 545.9,508.4 546.2,508.0 546.6,514.4 546.9,514.6 547.3,516.8 547.7,520.0 548.0,522.2 548.4,522.6 548.7,523.2 549.1,529.6 549.5,525.4 549.8,534.4 550.2,532.0 550.5,537.1 550.9,540.1 551.3,536.5 551.6,537.8 551.9,535.9 552.1,537.3 552.4,534.4 552.6,537.0 552.8,531.5 553.1,531.1 553.3,529.5 553.6,522.1 553.8,526.6 554.0,524.9 554.3,521.8 554.5,517.8 554.8,515.8 555.0,514.7 555.3,510.2 555.5,510.3 555.7,509.5 556.0,501.1 556.2,504.4 556.5,499.1 556.7,496.0 556.9,500.8 557.2,494.5 557.4,490.7 557.7,491.8 558.0,493.4 558.3,496.0 558.6,493.6 558.9,497.8 559.3,504.7 559.6,501.1 559.9,506.2 560.2,510.0 560.5,507.5 560.9,508.8 561.2,512.7 561.5,518.7 561.8,516.6 562.1,519.8 562.4,521.3 562.8,520.2 563.1,524.5 563.4,525.1 563.7,532.3 564.0,529.7 564.2,523.3 564.4,519.3 564.7,518.1 564.9,521.5 565.1,518.3 565.4,516.4 565.6,513.4 565.9,509.9 566.1,506.3 566.3,503.8 566.6,506.3 566.8,501.6 567.0,502.1 567.3,495.6 567.5,497.4 567.8,495.9 569.3,494.8 570.8,498.8 572.3,497.7 573.8,500.0 574.1,503.6 574.4,508.9 574.6,506.0 574.9,509.3 575.2,511.1 575.5,515.6 575.8,512.6 576.0,516.7 576.3,518.0 576.6,518.5 576.9,525.4 577.2,527.3 577.4,528.7 577.7,530.1 578.0,530.7 578.3,534.6 578.6,537.2 578.8,535.3 579.2,537.5 579.5,536.7 579.8,529.4 580.1,528.0 580.4,526.1 580.7,523.4 581.0,524.4 581.4,524.8 581.7,517.7 582.0,521.0 582.3,511.3 582.6,513.3 582.9,513.4 583.2,506.6 583.6,503.2 583.9,504.2 585.9,502.3 587.9,507.4 589.9,503.3 590.4,507.8 590.9,512.4 591.4,508.7 591.9,513.0" fill="none" stroke="#951409" stroke-width="4.5" stroke-linecap="round" stroke-linejoin="round"/>
<path d="M754,252.5 L754,754.5 L1256.5,754.5" fill="none" stroke="#bdbdbd" stroke-width="3.2" stroke-linejoin="round" stroke-linecap="round"/>
<line x1="754" y1="302" x2="758" y2="302" stroke="#bdbdbd" stroke-width="1.5" stroke-linecap="butt"/>
<line x1="754" y1="352" x2="758" y2="352" stroke="#bdbdbd" stroke-width="1.5" stroke-linecap="butt"/>
<line x1="754" y1="402" x2="758" y2="402" stroke="#bdbdbd" stroke-width="1.5" stroke-linecap="butt"/>
<line x1="754" y1="452.5" x2="758" y2="452.5" stroke="#bdbdbd" stroke-width="1.5" stroke-linecap="butt"/>
<line x1="754" y1="502.5" x2="758" y2="502.5" stroke="#bdbdbd" stroke-width="1.5" stroke-linecap="butt"/>
<line x1="754" y1="554" x2="758" y2="554" stroke="#bdbdbd" stroke-width="1.5" stroke-linecap="butt"/>
<line x1="754" y1="603" x2="758" y2="603" stroke="#bdbdbd" stroke-width="1.5" stroke-linecap="butt"/>
<line x1="754" y1="653" x2="758" y2="653" stroke="#bdbdbd" stroke-width="1.5" stroke-linecap="butt"/>
<line x1="754" y1="704" x2="758" y2="704" stroke="#bdbdbd" stroke-width="1.5" stroke-linecap="butt"/>
<line x1="1005" y1="754.5" x2="1005" y2="750.5" stroke="#bdbdbd" stroke-width="1.5" stroke-linecap="butt"/>
<text x="743.5" y="264" font-size="32" fill="#222" text-anchor="end" textLength="49" lengthAdjust="spacingAndGlyphs" stroke="#222" stroke-width="0.5">200</text>
<text x="743.5" y="756" font-size="32" fill="#222" text-anchor="end" stroke="#222" stroke-width="0.5">0</text>
<text x="749.5" y="779" font-size="31" fill="#222" text-anchor="start" stroke="#222" stroke-width="0.5">1</text>
<text x="1241.5" y="779" font-size="31" fill="#222" text-anchor="start" textLength="28" lengthAdjust="spacingAndGlyphs" stroke="#222" stroke-width="0.5">10</text>
<text x="1270" y="769" font-size="17" fill="#222" text-anchor="start" stroke="#222" stroke-width="0.5">5</text>
<text x="933" y="813" font-size="43" fill="#000" text-anchor="start" textLength="153" lengthAdjust="spacingAndGlyphs" stroke="#000" stroke-width="0.5">Trial No</text>
<text x="731.5" y="626" font-size="46" fill="#000" text-anchor="start" textLength="245" lengthAdjust="spacingAndGlyphs" transform="rotate(-90 731.5 626)" stroke="#000" stroke-width="0.5">No of States</text>
<line x1="754" y1="571" x2="1256" y2="571" stroke="#777" stroke-width="2.6" stroke-linecap="butt" stroke-dasharray="7 6.3"/>
<text x="1102" y="564" font-size="30" fill="#222" text-anchor="start" textLength="154" lengthAdjust="spacingAndGlyphs" stroke="#222" stroke-width="0.4">64 + 8 = 72</text>
<polyline points="767.6,733.8 768.0,730.8 768.4,728.2 768.7,724.4 769.1,721.0 769.9,719.0 770.7,716.2 771.5,713.4 772.0,710.7 772.4,708.0 772.9,705.0 773.3,703.1 773.8,701.2 774.3,698.4 774.7,695.6 775.2,692.4 775.6,689.8 776.1,686.6 776.4,684.9 776.7,681.8 777.0,679.1 777.4,677.7 777.7,674.3 778.0,672.6 778.3,669.7 778.6,667.2 778.9,664.4 779.2,661.0 779.5,659.1 779.9,655.9 780.2,653.4 780.5,650.3 780.8,647.5 781.2,645.4 781.6,642.4 782.1,640.4 782.5,638.8 782.9,636.9 783.3,633.5 783.7,630.1 784.1,627.7 784.6,624.7 785.0,622.3 785.4,620.6 785.9,618.2 786.4,614.7 787.0,612.6 787.5,610.1 788.0,607.4 788.5,604.4 791.6,601.6 792.9,598.8 794.2,597.4 795.5,595.3 798.3,595.6 801.2,595.5 804.0,596.6 806.4,597.4 808.7,598.4 810.2,596.2 811.8,594.9 814.5,593.1 817.2,593.1 819.9,592.9 822.6,592.1 825.7,591.9 828.8,592.2 831.9,593.4 835.0,591.8 837.5,592.5 840.0,592.1 842.4,593.1 844.9,594.1 847.4,594.0 850.5,593.7 851.0,591.6 851.6,588.4 852.1,584.9 855.2,584.5 858.3,583.7 861.1,583.7 864.0,583.6 866.8,584.2 869.6,584.0 872.5,585.4 875.3,586.0 875.8,582.7 876.3,578.8 876.7,576.6 877.2,573.2 877.7,570.6 878.9,567.1 880.0,564.6 883.1,563.0 886.1,562.2 889.2,561.2 891.8,560.8 894.3,560.9 896.9,559.7 899.5,559.1 902.0,558.2 905.0,557.9 908.0,556.9 911.0,556.6 914.0,556.7 916.9,557.4 919.1,558.7 921.2,561.1 923.3,561.6 924.9,559.0 926.5,557.7 928.1,555.7 929.7,552.6 931.3,550.7 932.9,548.9 934.5,547.5 936.1,545.5 938.3,543.9 940.4,541.6 942.5,540.4 944.7,538.0 946.8,535.6 948.9,533.4 951.5,534.1 954.0,533.7 956.6,533.2 959.1,533.4 961.7,532.6 964.4,532.4 967.0,533.4 969.7,534.5 972.4,533.9 973.6,532.3 974.9,529.1 976.2,525.8 977.5,523.8 978.8,521.8 981.3,520.7 983.9,519.3 986.4,519.2 989.0,517.4 991.6,517.3 992.5,514.6 993.4,512.5 994.4,510.1 995.3,507.3 996.3,504.6 997.2,503.3 998.2,500.6 999.1,497.8 1000.1,495.9 1002.2,494.7 1004.3,492.0 1006.5,490.8 1008.6,488.7 1011.2,488.4 1013.7,486.1 1016.3,486.0 1018.8,484.5 1021.4,483.1 1023.5,481.8 1025.7,480.0 1027.8,478.8 1029.9,477.0 1032.1,475.9 1034.2,475.1 1036.3,473.9 1038.4,472.1 1041.4,472.5 1044.4,472.9 1047.4,473.0 1050.4,471.7 1053.4,472.2 1055.5,473.8 1057.6,477.0 1058.7,474.4 1059.8,471.6 1060.8,469.4 1061.9,466.8 1063.0,463.7 1064.0,462.3 1065.1,458.6 1066.2,455.7 1067.2,453.6 1068.3,450.9 1069.4,448.8 1070.4,446.8 1071.5,444.1 1072.6,442.6 1073.6,439.2 1074.7,437.6 1075.8,435.4 1076.8,432.3 1078.6,430.4 1080.5,427.0 1082.3,426.1 1084.1,423.4 1086.0,420.9 1087.8,419.7 1089.6,417.0 1092.2,416.6 1094.7,416.7 1097.3,418.4 1099.8,418.1 1102.4,419.2 1105.2,418.4 1108.1,419.4 1110.9,420.0 1113.8,419.1 1116.6,419.6 1119.5,420.0 1120.9,416.4 1122.3,414.0 1123.7,412.5 1125.1,410.2 1126.6,407.1 1128.0,404.4 1130.5,402.9 1133.1,403.7 1135.7,403.8 1138.2,402.8 1140.8,401.6 1143.8,401.2 1146.7,402.0 1149.7,402.4 1152.7,402.3 1155.7,402.7 1156.6,398.8 1157.4,395.8 1158.3,393.3 1159.1,391.1 1160.0,388.2 1162.4,387.8 1164.8,387.2 1167.3,387.7 1169.7,386.9 1172.1,385.7 1174.6,385.4 1177.0,384.3 1177.8,383.1 1178.6,379.4 1179.3,376.8 1180.1,374.8 1180.9,373.1 1181.7,370.3 1182.4,366.8 1183.2,364.8 1184.0,362.7 1184.8,360.7 1185.5,357.8 1188.2,358.6 1190.9,360.9 1193.5,362.6 1196.2,364.5 1199.0,363.4 1201.9,364.2 1204.7,363.8 1205.8,360.8 1206.9,358.3 1207.9,355.6 1209.0,354.5 1210.1,351.1 1211.1,349.3 1212.2,346.4 1213.3,343.9 1215.8,342.7 1218.4,342.4 1220.9,340.0 1223.5,339.0 1226.0,337.6 1226.8,335.4 1227.5,333.3 1228.2,331.3 1228.9,328.6 1229.6,326.4 1230.3,324.1 1231.0,321.5 1231.7,317.6 1232.4,314.7 1233.2,312.9 1233.9,310.1 1234.6,307.8 1235.1,305.7 1235.6,303.3 1236.2,301.2 1236.7,298.9 1237.2,295.5 1237.8,293.3 1238.3,290.8 1238.8,288.2 1239.4,286.2 1239.9,283.8 1240.4,281.4 1241.0,278.3 1242.0,275.1 1243.1,273.3 1244.2,270.4 1245.2,267.9 1246.3,265.1 1247.4,262.4 1250.2,262.3 1253.0,262.7 1255.9,261.3" fill="none" stroke="#ffcc66" stroke-width="3.8" stroke-linecap="round" stroke-linejoin="round"/>
<polyline points="771.5,734.6 771.6,730.6 771.8,728.9 771.9,725.2 772.1,722.5 772.2,720.5 773.4,716.6 774.6,713.6 775.8,710.7 776.9,709.6 778.1,707.7 779.2,704.0 779.7,700.4 780.3,697.8 780.8,695.0 783.1,693.9 785.4,691.8 788.5,688.9 788.6,685.5 788.7,682.6 788.8,679.6 788.9,677.6 788.9,675.1 789.0,672.5 789.1,670.4 789.2,666.7 789.3,663.7 789.5,661.3 789.7,659.7 789.9,656.3 790.1,653.5 790.3,651.2 790.5,649.2 790.7,646.1 790.9,643.2 794.7,642.5 797.0,640.9 799.4,639.4 802.5,635.3 807.1,633.9 806.9,630.9 806.8,628.6 806.6,627.0 806.4,624.8 807.5,621.5 808.7,617.5 811.8,616.1 814.9,615.2 817.7,613.7 820.5,613.0 823.2,612.9 826.0,611.7 828.8,611.2 831.9,610.3 835.0,610.3 838.1,613.8 841.2,613.2 844.3,613.1 847.4,614.3 849.0,611.6 850.5,610.4 852.1,607.7 854.9,608.4 857.7,608.5 860.4,609.3 863.2,608.9 866.0,609.5 868.8,610.3 871.6,610.0 874.4,611.5 877.2,612.1 880.0,612.5 882.5,613.3 885.0,614.2 888.2,614.6 891.4,615.9 893.8,614.2 896.3,612.3 898.8,612.5 901.3,611.8 903.8,609.7 906.3,608.5 909.1,608.6 912.0,609.7 914.8,609.3 917.6,610.6 920.5,609.9 923.3,610.5 926.0,611.6 928.7,611.6 931.3,611.1 934.0,611.0 936.7,612.3 939.3,611.8 942.0,612.2 944.7,613.1 947.2,612.9 949.8,612.6 952.3,614.0 954.9,614.4 957.4,614.5 960.0,613.7 962.6,614.3 965.1,615.5 967.7,615.2 970.2,614.8 973.1,616.2 975.9,615.8 978.8,616.3 981.6,616.0 984.4,617.4 987.3,617.8 990.1,617.2 993.0,616.7 995.8,616.0 998.7,615.7 1001.5,615.5 1004.3,614.3 1007.2,615.3 1010.0,615.7 1012.9,614.5 1015.7,614.3 1018.6,615.3 1021.4,615.0 1024.2,614.8 1027.1,616.0 1029.9,617.2 1032.8,616.6 1035.6,617.1 1038.4,617.5 1041.3,616.8 1044.1,616.1 1047.0,616.0 1049.8,614.7 1052.7,613.3 1055.5,611.6 1058.3,610.2 1061.2,608.7 1064.0,607.3 1064.3,604.4 1064.6,601.8 1064.9,597.8 1065.2,594.9 1065.6,593.0 1065.9,590.1 1066.2,587.0 1068.8,587.1 1071.5,585.9 1074.2,586.2 1076.8,585.1 1079.7,586.4 1082.5,585.9 1085.3,587.2 1088.2,586.7 1091.0,587.6 1093.9,587.0 1096.6,587.5 1099.3,587.6 1102.0,588.6 1104.7,588.8 1107.4,588.7 1110.2,588.0 1112.9,588.7 1115.6,588.5 1118.3,588.4 1121.0,589.5 1123.7,589.7 1126.3,591.4 1128.8,592.2 1131.4,591.6 1134.0,593.7 1136.5,594.1 1139.2,594.6 1141.9,593.4 1144.7,593.2 1147.4,593.4 1150.1,592.6 1152.8,592.4 1155.5,592.1 1158.2,591.9 1160.9,592.1 1163.6,591.9 1166.4,592.4 1169.0,591.5 1171.7,591.2 1174.4,591.2 1177.0,590.7 1179.7,591.1 1182.3,591.3 1185.0,590.9 1187.7,591.5 1190.3,591.2 1193.0,592.6 1195.7,593.4 1198.3,593.3 1201.0,592.7 1203.7,592.6 1206.3,592.6 1209.0,593.0 1211.8,594.6 1214.7,595.2 1217.5,595.8 1220.4,595.3 1223.2,595.8 1226.0,596.4 1228.6,595.6 1231.2,594.7 1233.7,592.7 1236.3,593.3 1238.8,592.1 1241.3,590.8 1243.7,590.1 1246.1,590.3 1248.6,590.2 1251.0,588.1 1253.5,587.4 1255.9,587.5" fill="none" stroke="#ff1f8e" stroke-width="3.8" stroke-linecap="round" stroke-linejoin="round"/>
<line x1="754" y1="734" x2="1256" y2="734" stroke="#951409" stroke-width="5" stroke-linecap="butt"/>
<text x="544" y="994.5" font-size="62" fill="#ffcc66" text-anchor="start" textLength="288" lengthAdjust="spacingAndGlyphs" stroke="#ffcc66" stroke-width="1"><tspan font-style="italic">η</tspan> = 1 (low)</text>
<path d="M88,1085 L88,1582.5 L590,1582.5" fill="none" stroke="#e8e8e8" stroke-width="3.2" stroke-linejoin="round" stroke-linecap="round"/>
<line x1="88" y1="1185" x2="92" y2="1185" stroke="#e8e8e8" stroke-width="1.5" stroke-linecap="butt"/>
<line x1="88" y1="1285" x2="92" y2="1285" stroke="#e8e8e8" stroke-width="1.5" stroke-linecap="butt"/>
<line x1="88" y1="1385" x2="92" y2="1385" stroke="#e8e8e8" stroke-width="1.5" stroke-linecap="butt"/>
<line x1="88" y1="1485" x2="92" y2="1485" stroke="#e8e8e8" stroke-width="1.5" stroke-linecap="butt"/>
<line x1="340" y1="1582.5" x2="340" y2="1578.5" stroke="#e8e8e8" stroke-width="1.5" stroke-linecap="butt"/>
<text x="85" y="1086" font-size="32" fill="#222" text-anchor="end" textLength="75" lengthAdjust="spacingAndGlyphs" stroke="#222" stroke-width="0.5">100%</text>
<text x="84" y="1587" font-size="32" fill="#222" text-anchor="end" textLength="42" lengthAdjust="spacingAndGlyphs" stroke="#222" stroke-width="0.5">0%</text>
<text x="88" y="1614" font-size="31" fill="#222" text-anchor="start" stroke="#222" stroke-width="0.5">1</text>
<text x="580" y="1614" font-size="31" fill="#222" text-anchor="start" textLength="28" lengthAdjust="spacingAndGlyphs" stroke="#222" stroke-width="0.5">10</text>
<text x="609" y="1604" font-size="17" fill="#222" text-anchor="start" stroke="#222" stroke-width="0.5">5</text>
<text x="269" y="1640" font-size="43" fill="#000" text-anchor="start" textLength="153" lengthAdjust="spacingAndGlyphs" stroke="#000" stroke-width="0.5">Trial No</text>
<text x="72" y="1462" font-size="46" fill="#000" text-anchor="start" textLength="290" lengthAdjust="spacingAndGlyphs" transform="rotate(-90 72 1462)" stroke="#000" stroke-width="0.5">Referred State</text>
<polyline points="89.5,1085.2 92.1,1085.6 94.8,1085.8 97.4,1086.1 100.0,1085.8 100.2,1088.7 100.4,1089.7 100.5,1092.7 100.7,1096.4 100.9,1098.7 101.1,1101.8 101.3,1103.0 101.5,1105.9 101.6,1108.2 101.8,1111.3 102.0,1114.1 102.2,1115.7 102.4,1118.4 102.6,1121.1 102.8,1125.0 103.0,1127.7 103.2,1129.1 103.4,1132.7 103.6,1134.2 103.8,1137.5 104.0,1139.3 104.2,1141.4 104.4,1145.6 104.6,1147.3 104.8,1149.7 105.0,1153.8 105.5,1156.5 106.0,1158.0 106.5,1161.6 107.0,1163.6 107.6,1166.2 108.1,1167.9 108.6,1171.6 109.1,1174.0 109.6,1177.1 109.9,1179.7 110.1,1181.2 110.4,1183.5 110.7,1185.7 110.9,1188.1 111.2,1190.5 111.5,1193.5 111.7,1196.9 112.0,1198.5 112.1,1202.1 112.2,1204.2 112.3,1206.5 112.4,1210.0 112.5,1212.1 112.6,1214.2 112.6,1216.9 112.7,1219.9 112.8,1221.3 112.9,1225.3 113.0,1226.3 113.1,1229.8 113.2,1232.8 113.3,1233.8 113.4,1237.4 113.5,1239.4 113.6,1242.2 113.7,1243.6 113.7,1245.9 113.8,1248.6 113.9,1252.7 114.0,1254.2 114.1,1257.5 114.2,1260.6 114.3,1263.3 114.4,1264.7 114.5,1266.8 114.6,1269.6 114.7,1272.7 114.8,1274.0 114.9,1277.4 114.9,1280.3 115.0,1283.1 115.1,1284.0 115.2,1287.9 115.3,1289.1 115.4,1291.7 115.5,1294.7 115.6,1298.0 115.7,1299.6 115.8,1303.0 115.9,1305.0 116.0,1306.9 116.0,1309.2 116.1,1311.4 116.2,1313.6 116.3,1316.2 116.4,1319.8 116.5,1323.2 116.6,1324.4 116.7,1326.2 116.8,1330.4 116.9,1332.5 117.0,1334.6 117.1,1336.7 117.2,1339.8 117.2,1342.9 117.3,1344.9 117.4,1347.1 117.5,1348.8 117.6,1352.8 117.7,1354.0 117.8,1357.0 117.9,1360.4 118.0,1361.7 118.1,1365.1 118.2,1368.3 118.3,1370.4 118.3,1373.1 118.4,1374.2 118.5,1377.0 118.6,1379.0 118.7,1382.8 118.8,1384.6 118.9,1387.2 119.0,1390.8 119.1,1393.3 119.2,1396.1 119.3,1397.6 119.4,1399.9 119.4,1402.8 119.5,1405.0 119.6,1407.0 119.7,1409.6 119.8,1411.6 119.9,1414.4 120.0,1418.2 120.1,1421.1 120.2,1423.0 120.3,1425.1 120.4,1427.1 120.5,1429.0 120.6,1431.7 120.6,1435.3 120.7,1438.3 120.8,1439.9 120.9,1443.0 121.0,1445.7 121.1,1448.0 121.2,1450.5 121.3,1453.1 121.4,1454.9 121.5,1457.8 121.6,1459.6 121.7,1462.3 121.7,1465.5 121.8,1468.0 121.9,1469.7 122.0,1473.3 122.1,1475.5 122.2,1477.8 122.3,1479.1 122.4,1482.4 122.5,1484.6 122.6,1487.9 122.6,1490.2 122.7,1493.4 122.8,1495.8 122.9,1498.6 123.0,1500.4 123.1,1503.3 123.2,1506.1 123.3,1509.0 123.3,1510.6 123.4,1513.9 123.5,1516.7 123.6,1519.0 123.7,1522.1 123.8,1524.7 123.9,1526.4 124.0,1528.8 124.0,1530.5 124.1,1534.2 124.2,1537.3 124.3,1539.1 124.4,1541.8 124.5,1544.5 124.6,1547.1 124.7,1548.6 124.8,1552.0 124.8,1554.5 124.9,1557.1 125.0,1559.2 125.1,1562.1 125.2,1565.0 125.3,1567.4 125.4,1570.1 125.5,1571.3 125.5,1573.7 125.6,1576.8 125.7,1579.9 125.8,1581.8 128.6,1582.5 131.5,1582.6 134.3,1581.5 137.1,1582.0 139.9,1581.7 142.8,1581.2 145.6,1581.2 146.3,1579.0 146.9,1576.1 147.6,1573.5 148.2,1570.5 148.9,1568.6 149.5,1566.0 150.2,1563.8 151.4,1566.2 152.6,1567.9 153.7,1571.3 154.9,1572.2 156.4,1570.2 158.0,1567.8 159.5,1565.6 160.7,1567.4 161.8,1571.1 163.0,1572.8 164.2,1574.3 167.7,1574.1 171.2,1572.2 174.6,1574.0 178.0,1574.9 179.6,1573.1 181.2,1571.6 182.8,1569.3 185.1,1566.2 187.4,1564.4 189.2,1562.1 190.9,1559.5 192.7,1556.8 194.4,1555.5 196.2,1553.6 197.9,1552.4 199.7,1550.7 201.4,1548.0 203.7,1548.5 206.0,1550.6 208.9,1548.4 211.8,1547.6 214.8,1547.8 217.7,1547.6 221.2,1547.9 224.7,1549.9 225.8,1553.5 227.0,1555.6 228.2,1558.4 229.3,1560.8 230.7,1563.1 232.1,1566.8 233.5,1568.3 234.9,1571.6 236.3,1574.1 238.6,1574.7 240.9,1575.0 243.3,1577.4 245.6,1578.0 246.5,1575.0 247.3,1572.1 248.2,1570.7 249.1,1567.4 250.0,1564.2 250.8,1561.8 251.7,1558.5 252.6,1556.7 255.7,1557.4 258.8,1557.8 261.9,1559.4 263.4,1557.4 265.0,1553.6 266.5,1551.8 268.8,1552.7 271.1,1555.1 273.5,1556.3 275.8,1556.4 278.1,1554.6 280.5,1552.7 282.8,1552.7 286.3,1553.0 289.8,1554.6 292.9,1553.6 295.9,1553.1 299.0,1552.3 301.6,1551.0 304.1,1548.2 306.7,1547.5 309.3,1545.3 312.8,1544.4 316.3,1543.0 317.4,1545.1 318.6,1547.9 319.8,1550.2 320.9,1552.3 323.2,1554.1 325.6,1555.2 327.9,1555.2 330.2,1556.5 332.6,1558.0 334.9,1560.2 336.1,1558.2 337.2,1555.3 338.4,1551.7 339.6,1550.5 340.7,1547.9 341.9,1545.7 344.2,1544.9 346.5,1543.7 348.9,1545.7 351.2,1548.7 353.5,1545.6 355.8,1543.1 358.1,1541.6 361.2,1539.8 364.3,1538.9 367.4,1539.1 369.7,1539.4 372.1,1542.2 374.4,1543.8 375.8,1545.6 377.2,1547.5 378.6,1550.7 380.0,1553.5 381.4,1554.5 382.1,1552.1 382.7,1549.6 383.4,1546.9 384.0,1543.9 384.7,1540.8 385.3,1538.9 386.0,1536.9 386.5,1533.1 387.1,1530.5 387.6,1529.2 388.2,1527.0 388.7,1524.3 389.2,1520.5 389.8,1519.0 390.3,1517.3 390.8,1515.0 391.4,1512.0 391.9,1508.1 392.5,1506.7 393.0,1503.3 393.7,1506.5 394.3,1510.0 395.0,1512.4 395.7,1513.8 396.4,1516.4 397.0,1520.3 397.7,1521.8 398.4,1525.0 399.0,1527.5 399.7,1529.6 400.3,1533.0 401.0,1534.8 401.6,1537.3 402.3,1540.4 403.5,1542.3 404.6,1544.4 405.8,1547.7 407.0,1550.7 408.1,1553.5 409.3,1554.4 411.6,1556.2 414.0,1557.5 416.3,1559.6 417.7,1561.8 419.1,1565.1 420.5,1566.5 421.9,1568.0 423.3,1571.3 426.8,1569.3 430.2,1568.9 433.0,1567.9 435.8,1567.8 438.6,1566.4 441.4,1565.5 444.2,1563.8 445.2,1566.5 446.2,1568.4 447.2,1571.5 448.2,1573.7 449.2,1575.2 450.2,1577.4 451.2,1580.0 454.1,1580.2 457.0,1578.8 459.9,1579.0 462.8,1578.5 465.7,1577.4 468.6,1578.2 471.5,1577.3 474.4,1577.1 475.8,1575.7 477.2,1572.9 478.6,1571.7 480.0,1569.0 481.4,1566.2 483.7,1568.2 486.0,1568.1 488.4,1570.2 490.7,1570.4 493.0,1572.6 495.4,1576.4 497.7,1578.6 501.2,1578.9 504.7,1579.6 507.5,1580.7 510.3,1580.1 513.0,1579.9 515.8,1578.1 518.6,1578.2 520.0,1575.5 521.4,1572.9 522.8,1570.6 524.2,1568.9 525.6,1566.2 529.1,1567.3 532.6,1568.0 535.5,1568.6 538.4,1568.1 541.3,1567.8 544.2,1566.6 545.8,1564.9 547.3,1562.1 548.9,1559.8 550.4,1557.5 552.0,1555.5 553.5,1552.6 556.6,1552.5 559.7,1553.0 562.8,1554.0 563.8,1556.4 564.8,1560.6 565.8,1563.0 566.8,1566.1 567.8,1567.4 568.8,1570.5 569.8,1574.2 571.3,1571.6 572.9,1568.8 574.4,1566.4 576.7,1567.2 579.1,1568.7 581.4,1570.2 583.7,1572.2 586.1,1573.9 588.4,1575.8" fill="none" stroke="#ffb3df" stroke-width="3.5" stroke-linecap="round" stroke-linejoin="round"/>
<polyline points="100.2,1582.8 100.4,1580.4 100.6,1577.4 100.8,1574.3 100.9,1571.2 101.1,1569.5 101.3,1566.9 101.5,1564.8 101.7,1561.8 101.9,1559.7 102.1,1556.5 102.3,1554.6 102.4,1552.1 102.6,1549.1 102.8,1546.6 103.0,1544.2 103.2,1541.0 103.4,1538.8 103.6,1536.7 103.8,1533.5 103.9,1531.6 104.1,1529.0 104.3,1526.7 104.5,1523.4 104.7,1520.2 104.9,1518.6 105.1,1516.4 105.3,1513.3 105.4,1510.0 105.6,1507.4 105.8,1505.6 106.0,1502.7 106.7,1501.1 107.3,1498.2 108.0,1495.0 108.6,1492.9 109.3,1490.0 109.9,1488.3 110.6,1486.0 111.2,1482.8 111.9,1480.3 112.0,1477.9 112.1,1475.6 112.2,1473.4 112.3,1469.5 112.4,1467.1 112.4,1465.0 112.5,1462.2 112.6,1460.0 112.7,1456.8 112.8,1455.4 112.9,1452.6 113.0,1449.4 113.1,1447.5 113.2,1444.7 113.3,1441.9 113.3,1439.7 113.4,1436.8 113.5,1434.3 113.6,1432.8 113.7,1430.3 113.8,1426.8 113.9,1425.2 114.0,1421.7 114.1,1419.4 114.2,1417.9 114.2,1415.2 114.3,1412.2 114.4,1409.6 114.5,1407.1 114.6,1404.2 114.7,1403.0 114.8,1399.3 114.9,1397.1 115.0,1395.2 115.1,1392.3 115.1,1390.6 115.2,1387.2 115.3,1385.5 115.4,1383.2 115.5,1380.3 115.6,1378.1 115.7,1375.0 115.8,1372.9 115.9,1370.4 116.0,1367.5 116.0,1364.8 116.1,1362.6 116.2,1359.7 116.3,1356.6 116.4,1355.0 116.5,1352.0 116.6,1349.7 116.7,1347.7 116.8,1344.4 116.9,1341.4 117.0,1338.9 117.0,1337.1 117.1,1334.5 117.2,1331.8 117.3,1329.5 117.4,1327.8 117.5,1324.5 117.6,1322.0 117.7,1320.3 117.8,1317.6 117.9,1314.4 117.9,1312.1 118.0,1309.6 118.1,1306.6 118.2,1304.3 118.3,1301.8 118.4,1300.0 118.5,1297.0 118.6,1294.9 118.7,1293.0 118.8,1290.6 118.8,1287.2 118.9,1284.8 119.0,1281.9 119.1,1279.4 119.2,1277.0 119.3,1275.1 119.4,1273.0 119.5,1269.5 119.6,1266.3 119.7,1264.3 119.7,1261.3 119.8,1258.6 119.9,1257.2 120.0,1254.0 120.1,1252.3 120.2,1249.4 120.3,1247.7 120.4,1245.3 120.5,1241.6 120.6,1238.9 120.6,1237.6 120.7,1234.9 120.8,1232.0 120.9,1230.0 121.0,1227.7 121.1,1224.7 121.2,1222.0 121.3,1218.9 121.4,1216.6 121.5,1213.8 121.5,1212.0 121.6,1209.7 121.7,1206.5 121.8,1204.6 121.9,1201.4 122.0,1198.7 122.0,1196.9 122.0,1194.2 122.0,1192.3 122.0,1189.5 122.0,1186.9 122.0,1183.4 122.0,1181.7 122.0,1178.1 122.0,1176.1 122.0,1174.1 122.0,1171.7 122.0,1169.1 122.0,1165.8 122.0,1163.4 122.0,1161.0 122.0,1157.4 122.0,1155.8 122.0,1153.4 122.0,1150.2 122.2,1147.9 122.4,1144.9 122.6,1141.9 122.8,1139.9 123.0,1136.5 123.2,1134.8 123.3,1132.8 123.5,1129.2 123.7,1127.4 123.9,1123.7 124.1,1122.0 124.3,1118.8 124.5,1117.1 124.7,1113.9 124.9,1112.0 125.1,1108.1 125.3,1105.3 125.5,1103.8 125.7,1101.2 125.9,1098.5 126.1,1095.0 126.3,1092.4 126.5,1090.2 126.7,1087.2 129.8,1086.1 132.6,1086.2 135.4,1086.5 138.1,1086.2 140.9,1085.5 143.7,1084.9 144.5,1088.2 145.2,1090.0 146.0,1093.0 146.7,1095.5 147.5,1098.0 148.2,1099.8 149.0,1102.1 150.0,1100.3 151.0,1097.2 152.0,1095.3 153.0,1092.4 154.0,1090.0 155.0,1087.3 156.1,1090.2 157.2,1092.5 158.3,1094.5 159.4,1096.7 160.5,1099.6 161.6,1102.6 162.7,1099.6 163.8,1096.5 164.8,1094.1 165.9,1091.4 167.0,1089.5 170.0,1091.7 173.0,1093.2 176.2,1092.2 179.3,1091.9 182.5,1091.7 183.2,1094.3 183.9,1096.7 184.5,1100.1 185.2,1102.1 185.9,1104.6 186.6,1107.2 187.3,1109.5 188.0,1112.2 188.6,1114.1 189.3,1116.8 190.0,1119.8 191.5,1116.5 193.0,1114.6 194.5,1112.1 196.0,1109.3 196.7,1111.6 197.3,1115.3 198.0,1117.2 198.6,1120.6 199.3,1122.4 200.0,1125.2 200.6,1127.3 201.3,1130.6 201.9,1133.8 202.6,1135.7 204.2,1138.0 205.7,1140.7 207.2,1141.9 208.8,1143.9 209.3,1147.0 209.7,1150.0 210.2,1151.6 210.7,1154.7 211.2,1156.6 211.6,1159.0 212.1,1163.0 212.6,1164.5 213.1,1168.2 213.5,1170.9 214.0,1173.4 215.0,1170.8 216.0,1167.9 217.0,1164.5 218.0,1161.8 220.2,1163.5 222.3,1166.4 224.5,1168.6 226.7,1170.6 227.2,1167.1 227.8,1164.9 228.3,1161.8 228.8,1160.0 229.3,1157.5 229.9,1155.3 230.4,1152.4 230.9,1149.7 231.5,1147.2 232.0,1143.5 234.3,1145.5 236.7,1146.3 238.0,1144.4 239.2,1141.9 240.5,1140.9 241.7,1137.6 243.0,1136.5 244.0,1139.4 245.0,1141.3 246.0,1144.3 247.0,1145.8 248.0,1148.2 249.0,1150.5 249.2,1148.0 249.4,1145.4 249.6,1144.2 249.8,1140.9 250.0,1139.0 250.0,1138.6 250.6,1140.9 251.2,1143.8 251.8,1146.2 252.5,1149.9 253.1,1151.9 253.7,1154.7 254.3,1157.3 254.9,1160.0 255.5,1162.3 256.2,1164.5 256.8,1166.8 257.5,1165.2 258.1,1161.7 258.8,1159.1 259.5,1157.1 260.2,1154.2 260.9,1152.0 261.5,1149.2 262.2,1146.0 263.6,1147.7 264.9,1150.7 266.3,1153.2 267.6,1156.3 269.0,1158.4 270.3,1161.1 272.2,1159.5 274.0,1157.2 275.8,1155.9 278.5,1154.7 281.2,1152.2 282.3,1155.6 283.5,1158.3 284.6,1160.8 285.7,1162.5 286.9,1164.6 288.0,1166.8 291.4,1168.4 294.8,1170.6 296.1,1167.4 297.5,1164.0 298.8,1161.5 299.9,1163.9 300.9,1167.4 301.9,1170.6 302.9,1173.7 304.9,1170.5 307.0,1168.5 308.1,1170.9 309.1,1174.7 310.2,1177.7 311.3,1179.9 312.4,1183.2 313.8,1180.3 315.1,1178.2 316.5,1175.4 317.8,1172.7 320.5,1173.0 323.3,1172.3 324.6,1169.2 326.0,1166.8 327.3,1163.9 328.1,1166.4 328.8,1167.7 329.6,1169.9 330.3,1172.2 331.1,1175.4 331.8,1178.2 332.6,1179.8 333.4,1182.6 334.1,1184.5 335.9,1187.0 337.7,1189.2 339.5,1190.0 342.9,1191.8 346.3,1192.3 347.1,1189.0 347.9,1186.6 348.8,1183.9 349.6,1182.3 350.4,1180.4 350.9,1181.8 351.5,1184.0 352.0,1187.0 352.6,1190.0 353.1,1192.5 353.6,1194.4 354.2,1196.2 354.7,1199.2 355.3,1201.6 355.8,1204.6 356.6,1201.6 357.4,1199.1 358.3,1196.9 359.1,1193.7 359.9,1191.3 361.0,1192.9 362.1,1194.7 363.3,1198.4 364.4,1199.8 365.5,1203.6 366.7,1205.6 368.0,1202.5 369.4,1200.4 370.7,1198.9 372.8,1200.6 374.8,1202.9 375.6,1199.6 376.3,1198.0 377.1,1195.0 377.8,1193.0 378.6,1189.5 379.3,1187.5 380.1,1184.8 380.8,1182.1 381.6,1178.9 382.1,1181.9 382.7,1185.1 383.2,1186.5 383.8,1189.2 384.3,1191.0 384.8,1194.9 385.4,1197.7 385.9,1199.8 386.5,1201.8 387.0,1203.5 387.6,1200.6 388.1,1198.8 388.6,1196.5 389.2,1194.2 389.7,1191.4 390.1,1193.2 390.6,1195.2 391.0,1198.0 391.4,1200.3 391.8,1203.1 392.2,1206.2 392.7,1208.2 393.1,1211.4 393.5,1213.7 393.9,1215.0 394.3,1218.3 394.7,1220.9 395.2,1223.4 396.5,1219.7 397.9,1218.1 399.2,1215.1 399.7,1212.5 400.1,1209.3 400.6,1206.4 401.0,1203.7 401.5,1201.4 401.9,1199.0 402.4,1196.3 402.8,1193.5 403.3,1192.0 406.0,1194.3 408.7,1196.7 409.8,1193.0 410.9,1190.8 412.0,1188.1 413.1,1184.5 414.1,1182.8 416.2,1180.3 418.2,1177.8 419.0,1175.1 419.8,1173.8 420.5,1170.5 421.3,1168.0 422.1,1165.7 422.9,1163.0 423.6,1160.9 424.3,1162.6 425.0,1165.4 425.7,1168.2 426.4,1170.9 427.0,1173.4 427.7,1175.3 429.7,1173.0 431.8,1171.0 433.6,1172.7 435.4,1175.0 437.2,1177.6 438.6,1173.4 439.9,1169.8 441.0,1173.5 442.1,1175.5 443.2,1178.2 444.3,1180.8 445.3,1184.5 446.0,1181.6 446.7,1179.5 447.4,1176.0 448.1,1173.4 448.7,1171.4 449.4,1168.6 450.1,1166.5 450.8,1163.9 451.5,1160.7 452.1,1158.1 452.8,1156.1 453.5,1153.9 455.3,1155.6 457.1,1157.9 458.9,1159.7 460.0,1162.7 461.1,1165.6 462.2,1168.5 463.3,1171.6 464.3,1174.8 467.1,1176.1 469.8,1177.5 472.5,1176.1 475.2,1175.6 477.9,1177.3 480.6,1179.1 482.7,1176.1 484.7,1173.4 486.7,1171.3 488.8,1169.9 489.4,1173.3 490.0,1174.9 490.6,1178.2 491.2,1180.8 491.8,1183.7 492.4,1186.4 493.0,1187.8 493.6,1191.1 494.2,1192.8 498.3,1191.1 499.6,1188.8 501.0,1186.3 502.3,1183.0 503.7,1180.5 505.7,1182.4 507.8,1184.3 510.5,1183.6 513.2,1182.7 514.1,1185.6 515.0,1188.4 515.9,1191.2 516.8,1194.2 517.7,1196.8 518.6,1199.2 519.5,1201.4 520.4,1204.4 521.3,1206.4 524.0,1208.2 526.7,1210.1 528.1,1208.5 529.5,1205.4 530.8,1203.0 532.2,1200.7 533.5,1198.7 534.9,1201.2 536.2,1203.4 537.6,1205.7 540.3,1205.0 543.0,1206.0 544.4,1208.3 545.7,1210.0 547.1,1212.1 548.0,1209.6 548.9,1206.2 549.8,1204.2 550.3,1207.3 550.7,1209.2 551.2,1211.8 551.6,1214.0 552.1,1217.5 552.5,1219.4 553.0,1221.8 553.4,1224.9 553.9,1227.0 555.7,1226.0 557.5,1223.6 559.3,1221.9 559.7,1224.2 560.1,1227.2 560.5,1229.9 560.9,1232.0 561.3,1235.7 561.7,1237.6 562.2,1240.7 562.6,1243.7 563.0,1246.2 563.4,1248.6 563.8,1246.2 564.1,1244.6 564.5,1240.8 564.9,1239.2 565.3,1236.6 565.7,1233.8 566.1,1231.5 566.5,1229.0 566.9,1226.8 567.2,1224.6 567.6,1221.5 568.0,1218.5 568.4,1215.9 568.8,1214.2 569.5,1216.2 570.2,1217.9 570.8,1221.0 571.5,1222.9 572.2,1225.6 572.9,1228.6 573.8,1231.5 574.7,1234.1 575.6,1237.2 576.5,1239.7 577.4,1242.9 578.3,1245.6 579.0,1242.1 579.8,1240.0 580.5,1236.9 581.3,1235.1 582.0,1232.3 582.7,1229.3 583.5,1226.2 584.2,1224.5 585.0,1221.4 585.7,1218.1 586.4,1216.6 587.1,1219.0 587.8,1223.1" fill="none" stroke="#ff1f8e" stroke-width="4.5" stroke-linecap="round" stroke-linejoin="round"/>
<polyline points="89.8,1582.3 180.0,1582.3" fill="none" stroke="#7d0a3c" stroke-width="6" stroke-linecap="round" stroke-linejoin="round" stroke-dasharray="0 18"/>
<polyline points="186.3,1569.5 191.0,1562.6 196.7,1574.2 204.9,1566.0 209.5,1554.4 213.0,1535.8 218.8,1538.1 224.7,1528.8 234.0,1533.5 244.4,1537.0 251.4,1542.8 257.2,1535.8 263.0,1542.8 273.5,1539.3 282.8,1538.1 291.0,1531.2 297.9,1533.5 304.7,1524.7 311.6,1534.0 320.9,1527.0 325.6,1532.8 330.2,1522.3 334.9,1508.4 341.9,1513.0 348.8,1517.7 355.8,1506.0 362.8,1506.0 369.8,1510.7 374.4,1506.0 379.0,1515.3 388.4,1529.3 397.7,1522.3 404.7,1508.4 412.8,1501.4 418.6,1513.0 424.4,1520.0 427.9,1503.7 434.9,1505.0 439.5,1513.0 446.5,1501.4 458.1,1514.2 462.8,1502.6 472.0,1494.4 481.4,1503.7 486.0,1500.2 491.9,1508.4 493.0,1492.0 497.7,1477.0 502.3,1487.4 509.3,1485.0 516.3,1480.5 521.0,1470.0 525.6,1475.8 532.6,1477.0 544.2,1475.8 551.2,1468.8 558.1,1464.2 562.8,1449.0 569.8,1459.5 574.4,1445.6 579.0,1436.3 586.0,1456.0" fill="none" stroke="#7d0a3c" stroke-width="6.5" stroke-linecap="round" stroke-linejoin="round" stroke-dasharray="0 8.5"/>
<rect x="196" y="1295" width="53" height="10.5" fill="#ffb3df"/>
<text x="262" y="1309" font-size="30" fill="#222" text-anchor="start" textLength="226" lengthAdjust="spacingAndGlyphs" stroke="#222" stroke-width="0.4">Previous 1 trial</text>
<rect x="196" y="1338" width="53" height="11" fill="#ff1f8e"/>
<text x="262" y="1351.5" font-size="30" fill="#222" text-anchor="start" textLength="102" lengthAdjust="spacingAndGlyphs" stroke="#222" stroke-width="0.4">2 trials</text>
<line x1="196" y1="1384" x2="249" y2="1384" stroke="#7d0a3c" stroke-width="9.5" stroke-linecap="butt" stroke-dasharray="10 9"/>
<text x="262" y="1394" font-size="30" fill="#222" text-anchor="start" textLength="233" lengthAdjust="spacingAndGlyphs" stroke="#222" stroke-width="0.4">3 trials or more</text>
<text x="756" y="1060" font-size="36" fill="#222" text-anchor="start" textLength="499" lengthAdjust="spacingAndGlyphs" stroke="#222" stroke-width="0.4">2<tspan font-size="22" dy="-14">nd</tspan><tspan dy="14"> trial in exploration phase</tspan></text>
<path d="M757,1079 L757,1582 L1259,1582" fill="none" stroke="#c8c8c8" stroke-width="3.5" stroke-linejoin="round" stroke-linecap="round"/>
<line x1="757" y1="1180" x2="761" y2="1180" stroke="#c8c8c8" stroke-width="1.5" stroke-linecap="butt"/>
<line x1="757" y1="1280.5" x2="761" y2="1280.5" stroke="#c8c8c8" stroke-width="1.5" stroke-linecap="butt"/>
<line x1="757" y1="1381" x2="761" y2="1381" stroke="#c8c8c8" stroke-width="1.5" stroke-linecap="butt"/>
<line x1="757" y1="1481.5" x2="761" y2="1481.5" stroke="#c8c8c8" stroke-width="1.5" stroke-linecap="butt"/>
<line x1="1008" y1="1582" x2="1008" y2="1578" stroke="#c8c8c8" stroke-width="1.5" stroke-linecap="butt"/>
<text x="743" y="1086" font-size="32" fill="#222" text-anchor="end" textLength="75" lengthAdjust="spacingAndGlyphs" stroke="#222" stroke-width="0.5">100%</text>
<text x="742" y="1587" font-size="32" fill="#222" text-anchor="end" textLength="42" lengthAdjust="spacingAndGlyphs" stroke="#222" stroke-width="0.5">0%</text>
<text x="752" y="1616" font-size="31" fill="#222" text-anchor="start" stroke="#222" stroke-width="0.5">1</text>
<text x="1238.5" y="1616" font-size="31" fill="#222" text-anchor="start" textLength="28" lengthAdjust="spacingAndGlyphs" stroke="#222" stroke-width="0.5">10</text>
<text x="1267.5" y="1606" font-size="17" fill="#222" text-anchor="start" stroke="#222" stroke-width="0.5">5</text>
<text x="931" y="1643" font-size="43" fill="#000" text-anchor="start" textLength="153" lengthAdjust="spacingAndGlyphs" stroke="#000" stroke-width="0.5">Trial No</text>
<text x="729.5" y="1429" font-size="46" fill="#000" text-anchor="start" textLength="227" lengthAdjust="spacingAndGlyphs" transform="rotate(-90 729.5 1429)" stroke="#000" stroke-width="0.5">Select Rate</text>
<polyline points="757.5,1582.1 758.4,1579.3 759.4,1576.7 760.3,1575.4 761.2,1572.7 762.1,1570.4 763.0,1567.7 764.0,1564.9 764.9,1562.9 766.1,1560.4 767.3,1558.4 768.4,1555.9 769.6,1553.7 770.8,1550.8 772.8,1548.2 774.7,1546.1 776.7,1544.9 778.7,1546.9 780.7,1550.2 782.7,1552.9 785.7,1554.0 788.6,1556.9 790.6,1554.0 792.5,1553.1 794.5,1551.4 795.0,1547.9 795.6,1545.9 796.1,1543.6 796.7,1540.2 797.2,1538.2 797.8,1535.0 798.3,1533.6 798.9,1531.0 799.4,1528.9 800.0,1525.1 800.5,1522.6 802.5,1521.1 804.4,1519.3 804.9,1521.1 805.4,1524.5 805.9,1527.2 806.4,1528.8 806.9,1530.8 807.4,1534.0 807.9,1536.2 808.4,1539.0 809.6,1541.2 810.8,1543.4 811.9,1545.1 813.1,1547.5 814.3,1550.4 817.2,1552.9 820.2,1554.6 823.2,1553.0 826.2,1550.9 828.2,1549.4 830.1,1547.2 832.1,1544.6 834.1,1546.1 836.0,1547.9 838.0,1549.7 840.0,1553.6 842.0,1556.6 844.0,1559.2 846.0,1560.8 847.9,1564.0 849.9,1565.9 852.8,1569.0 855.8,1570.9 857.8,1569.0 859.7,1566.8 861.7,1564.5 864.3,1564.4 867.0,1564.1 869.6,1562.5 872.3,1561.8 874.9,1561.6 877.6,1561.0 880.2,1559.2 882.9,1557.8 885.5,1557.3 888.1,1557.1 890.8,1557.4 893.4,1558.7 895.4,1560.9 897.3,1564.4 899.3,1566.4 902.2,1565.2 905.2,1562.6 907.2,1565.8 909.2,1568.5 911.2,1571.0 914.2,1571.2 917.1,1571.8 918.3,1569.1 919.5,1566.9 920.6,1565.3 921.8,1562.3 923.0,1560.0 926.0,1559.5 929.0,1558.0 930.0,1560.8 931.0,1563.3 932.0,1566.6 932.9,1568.6 933.9,1572.4 934.9,1574.7 936.9,1572.9 938.8,1570.7 940.8,1568.6 943.4,1569.9 946.1,1570.7 948.7,1571.3 951.3,1569.3 954.0,1569.2 956.6,1569.2 959.2,1568.3 961.9,1567.3 964.5,1566.8 966.1,1568.4 967.7,1571.5 969.2,1574.2 970.8,1575.5 972.4,1578.3 974.4,1576.5 976.4,1574.2 978.4,1572.6 981.3,1571.2 984.3,1569.4 986.3,1566.5 988.2,1564.0 990.2,1563.0 992.2,1560.9 993.1,1558.8 994.0,1556.5 994.8,1553.2 995.7,1551.0 996.6,1548.2 997.5,1546.5 998.3,1544.1 999.2,1540.9 1000.1,1538.7 1001.6,1541.4 1003.0,1543.4 1004.5,1545.6 1006.0,1548.5 1008.5,1548.1 1011.0,1548.9 1014.0,1547.7 1017.1,1545.8 1018.8,1542.6 1020.5,1541.4 1022.2,1539.5 1023.8,1537.5 1025.5,1534.4 1027.2,1533.2 1029.2,1534.6 1031.2,1537.4 1033.2,1538.9 1035.2,1540.8 1036.4,1542.9 1037.6,1546.3 1038.9,1548.0 1040.1,1551.3 1041.3,1553.4 1042.3,1555.2 1043.3,1558.3 1044.3,1560.8 1045.3,1562.5 1046.3,1566.1 1047.3,1568.0 1048.3,1569.9 1049.3,1573.5 1050.2,1571.2 1051.1,1568.3 1052.0,1565.4 1052.9,1563.3 1053.8,1561.1 1054.7,1558.8 1055.6,1556.1 1056.5,1553.7 1057.4,1551.5 1059.4,1552.7 1061.5,1554.5 1063.5,1557.0 1065.5,1559.5 1068.0,1561.3 1070.5,1563.0 1073.0,1563.9 1075.5,1565.7 1076.9,1562.5 1078.4,1560.3 1079.8,1557.6 1081.3,1556.3 1082.7,1554.6 1084.2,1552.0 1085.6,1549.7 1086.1,1546.6 1086.5,1544.6 1087.0,1541.1 1087.5,1538.8 1087.9,1536.4 1088.4,1534.7 1088.9,1531.4 1089.4,1528.6 1089.8,1526.0 1090.3,1524.6 1090.8,1521.6 1091.2,1520.0 1091.7,1516.8 1092.9,1515.0 1094.1,1511.7 1095.3,1510.2 1096.5,1508.1 1097.7,1505.7 1098.5,1507.9 1099.2,1510.7 1100.0,1513.3 1100.7,1515.9 1101.5,1517.4 1102.2,1520.5 1103.0,1523.1 1103.7,1524.9 1104.4,1526.9 1105.1,1530.4 1105.9,1532.4 1106.6,1534.8 1107.3,1537.9 1108.0,1539.8 1108.8,1541.8 1109.5,1544.7 1110.2,1547.1 1110.9,1549.1 1111.6,1552.1 1112.4,1555.0 1113.1,1556.6 1113.8,1559.6 1115.0,1557.2 1116.1,1554.2 1117.3,1551.0 1118.4,1549.0 1119.6,1546.0 1120.7,1543.2 1121.9,1541.5 1123.6,1543.2 1125.3,1545.1 1127.0,1548.5 1128.6,1551.4 1130.3,1552.8 1132.0,1555.0 1133.4,1552.9 1134.9,1551.0 1136.3,1547.6 1137.7,1546.0 1139.1,1543.3 1140.6,1542.0 1142.0,1539.1 1142.9,1542.3 1143.8,1544.1 1144.7,1546.8 1145.6,1548.3 1146.5,1550.7 1147.4,1553.3 1148.3,1555.9 1149.2,1558.1 1150.1,1560.9 1152.6,1562.0 1155.2,1564.1 1157.7,1566.5 1160.2,1568.1 1161.5,1565.5 1162.7,1563.6 1164.0,1561.1 1165.2,1558.6 1166.5,1556.0 1167.8,1553.0 1169.0,1551.8 1170.3,1549.9 1172.3,1551.8 1174.3,1553.7 1176.3,1555.8 1178.3,1558.1 1180.8,1557.7 1183.3,1556.9 1185.9,1555.1 1188.4,1555.8 1190.4,1553.5 1192.4,1551.2 1194.5,1549.0 1196.5,1546.7 1198.5,1544.2 1199.8,1547.4 1201.2,1550.0 1202.5,1551.5 1203.8,1555.0 1205.2,1557.6 1206.5,1560.0 1208.0,1562.0 1209.5,1564.2 1211.1,1566.7 1212.6,1569.1 1214.2,1567.5 1215.8,1565.3 1217.4,1562.9 1219.0,1559.9 1220.6,1557.3 1222.6,1555.5 1224.7,1552.9 1226.7,1550.5 1228.7,1549.7 1230.1,1551.2 1231.6,1553.3 1233.0,1555.9 1234.5,1557.7 1235.9,1560.5 1237.4,1562.4 1238.8,1565.6 1239.7,1562.3 1240.7,1560.6 1241.6,1557.6 1242.5,1555.7 1243.5,1553.5 1244.4,1551.3 1245.3,1547.7 1246.2,1546.1 1247.2,1542.6 1248.1,1540.1 1249.0,1537.1 1250.0,1535.2 1250.9,1532.2 1252.7,1534.9 1254.4,1537.7 1256.2,1539.7 1257.9,1541.1" fill="none" stroke="#55ffff" stroke-width="3.5" stroke-linecap="round" stroke-linejoin="round"/>
<polyline points="757.5,1580.2 757.7,1576.8 757.8,1574.4 758.0,1571.8 758.2,1570.1 758.3,1567.7 758.5,1565.6 758.7,1561.9 758.9,1559.6 759.0,1556.5 759.2,1554.1 759.4,1552.1 759.5,1548.9 759.7,1546.5 759.9,1544.7 760.0,1542.3 760.2,1539.2 760.4,1537.1 760.5,1535.1 760.7,1531.4 760.9,1529.9 761.0,1527.4 761.2,1524.4 761.4,1521.4 761.5,1520.0 761.7,1516.9 761.9,1513.8 762.1,1511.1 762.2,1509.7 762.4,1507.1 762.6,1504.9 762.7,1502.4 762.9,1499.5 763.3,1497.5 763.8,1494.1 764.2,1491.5 764.7,1489.3 765.1,1486.5 765.6,1484.2 766.0,1481.2 766.5,1478.7 766.9,1475.0 769.8,1474.0 772.8,1473.1 774.3,1475.2 775.8,1477.9 777.2,1480.2 778.7,1482.9 779.9,1485.9 781.1,1488.0 782.3,1490.3 783.5,1492.4 784.7,1494.8 785.9,1498.3 787.2,1500.6 788.4,1503.0 789.6,1504.8 790.2,1507.9 790.8,1509.7 791.4,1512.3 792.0,1515.8 792.7,1518.0 793.3,1520.3 793.9,1522.9 794.5,1525.7 794.8,1528.3 795.2,1530.0 795.5,1532.1 795.8,1535.0 796.2,1537.6 796.5,1540.2 796.8,1544.0 797.2,1546.8 797.5,1548.6 798.1,1551.7 798.7,1554.1 799.3,1557.5 800.0,1559.7 800.6,1562.0 801.2,1564.5 801.8,1567.7 802.4,1570.1 803.4,1567.9 804.4,1565.8 805.4,1562.6 806.4,1559.5 807.4,1557.9 808.4,1554.8 811.3,1552.1 814.3,1549.8 816.3,1552.4 818.2,1555.9 820.2,1559.0 822.2,1560.6 824.2,1561.9 825.7,1559.7 827.2,1558.3 828.6,1555.4 830.1,1553.5 832.1,1555.5 834.0,1556.1 836.0,1558.8 838.0,1556.3 840.0,1553.5 842.0,1550.4 844.0,1553.5 845.9,1555.4 847.9,1558.3 849.9,1561.1 851.8,1564.5 853.8,1567.3 855.8,1564.4 857.8,1562.5 859.8,1560.1 861.8,1559.1 863.7,1557.3 865.7,1554.5 868.7,1553.8 871.6,1552.9 872.5,1549.7 873.3,1548.0 874.2,1545.4 875.0,1543.3 875.9,1540.5 876.8,1537.1 877.6,1534.9 878.5,1532.0 879.2,1535.9 879.9,1538.7 880.6,1541.3 881.4,1543.0 882.1,1544.9 882.8,1548.5 883.5,1551.5 884.7,1552.7 885.9,1555.3 887.0,1557.1 888.2,1560.4 889.4,1563.1 890.9,1559.7 892.3,1557.5 893.8,1555.2 895.3,1552.3 897.3,1555.2 899.3,1556.7 901.3,1558.1 902.5,1556.1 903.7,1554.2 904.8,1551.1 906.0,1548.7 907.2,1547.4 909.2,1544.5 911.1,1541.5 913.1,1538.8 914.3,1540.6 915.5,1542.9 916.7,1545.5 917.9,1548.3 919.1,1550.3 921.1,1548.2 923.0,1545.9 925.0,1544.8 925.7,1541.9 926.5,1540.4 927.2,1538.1 928.0,1534.4 928.7,1531.9 929.4,1530.1 930.2,1527.0 930.9,1524.3 932.9,1528.1 934.9,1530.5 936.9,1532.9 938.9,1531.4 940.8,1529.6 942.8,1526.7 943.7,1528.9 944.6,1531.9 945.4,1534.7 946.3,1537.4 947.2,1540.5 948.1,1543.2 948.9,1546.3 949.8,1547.7 950.7,1550.4 951.7,1548.1 952.7,1546.6 953.7,1543.5 954.6,1540.9 955.6,1538.9 956.6,1536.7 958.1,1534.0 959.5,1531.4 961.0,1530.0 962.5,1527.1 965.5,1527.6 968.5,1527.3 969.7,1528.7 970.9,1532.3 972.0,1534.8 973.2,1537.4 974.4,1539.8 975.2,1537.1 976.1,1533.4 976.9,1531.1 977.8,1528.1 978.6,1525.8 979.5,1522.7 980.3,1520.6 981.1,1524.0 981.9,1525.6 982.7,1528.5 983.5,1530.6 984.3,1532.8 985.0,1536.2 985.6,1539.2 986.3,1541.2 986.9,1543.9 987.6,1545.7 988.2,1548.3 988.9,1551.9 989.5,1554.3 990.2,1556.8 990.8,1554.5 991.4,1550.9 992.0,1548.9 992.6,1546.3 993.2,1544.3 993.8,1540.8 994.4,1539.2 995.0,1535.6 995.6,1532.8 996.2,1530.9 997.5,1528.5 998.8,1525.3 1000.1,1522.3 1003.0,1521.5 1006.0,1518.8 1006.7,1516.6 1007.4,1514.1 1008.1,1511.2 1008.9,1508.8 1009.6,1506.1 1010.3,1504.1 1011.0,1500.5 1011.5,1498.4 1011.9,1495.2 1012.4,1492.6 1012.9,1490.4 1013.3,1487.3 1013.8,1484.6 1014.3,1482.6 1014.8,1479.1 1015.2,1476.8 1015.7,1475.1 1016.2,1472.8 1016.6,1468.8 1017.1,1465.9 1017.4,1468.6 1017.7,1472.3 1018.0,1475.2 1018.3,1477.9 1018.6,1479.7 1018.9,1481.8 1019.3,1485.3 1019.6,1488.0 1019.9,1490.6 1020.2,1493.8 1020.5,1496.0 1020.8,1497.5 1021.1,1501.1 1021.4,1503.1 1021.7,1506.1 1022.1,1509.2 1022.4,1510.6 1022.7,1512.8 1023.0,1515.2 1023.3,1518.4 1023.7,1520.7 1024.0,1523.7 1024.3,1526.6 1024.6,1528.4 1025.0,1531.4 1025.3,1533.5 1025.6,1536.3 1025.9,1539.5 1026.2,1542.2 1026.6,1543.6 1026.9,1546.3 1027.2,1548.7 1028.0,1545.7 1028.7,1544.2 1029.5,1541.8 1030.2,1538.7 1031.0,1536.8 1031.7,1534.2 1032.5,1531.4 1033.2,1528.2 1034.2,1525.6 1035.2,1524.3 1036.2,1522.2 1037.2,1519.2 1038.3,1517.0 1039.3,1514.2 1040.3,1510.9 1041.3,1508.1 1042.3,1510.8 1043.3,1514.3 1044.3,1517.0 1045.3,1519.7 1046.3,1522.3 1047.3,1523.7 1048.3,1526.0 1049.3,1528.2 1050.3,1526.7 1051.3,1524.6 1052.3,1521.5 1053.3,1519.1 1054.4,1515.9 1055.4,1514.4 1056.4,1512.1 1057.4,1509.8 1060.1,1511.0 1062.8,1512.4 1065.5,1512.4 1066.2,1510.6 1067.0,1507.6 1067.8,1506.0 1068.5,1503.5 1069.2,1501.1 1070.0,1498.5 1070.8,1495.1 1071.5,1493.1 1073.5,1494.2 1075.5,1497.2 1077.6,1499.5 1079.6,1500.6 1080.1,1498.7 1080.7,1495.7 1081.2,1492.8 1081.8,1490.9 1082.3,1487.7 1082.9,1484.6 1083.4,1482.1 1084.0,1479.8 1084.5,1478.2 1085.1,1476.0 1085.6,1472.5 1086.3,1475.5 1087.0,1477.9 1087.6,1481.4 1088.3,1483.6 1089.0,1486.8 1089.7,1488.3 1090.3,1492.0 1091.0,1493.7 1091.7,1497.3 1092.4,1499.0 1093.0,1501.0 1093.7,1503.8 1094.4,1506.8 1095.0,1508.8 1095.7,1511.6 1096.4,1514.0 1097.0,1516.3 1097.7,1519.0 1100.4,1518.5 1103.1,1519.1 1105.8,1518.2 1108.5,1520.0 1111.1,1520.4 1113.8,1521.3 1116.5,1522.1 1119.2,1522.7 1121.9,1522.8 1123.4,1519.7 1124.9,1517.9 1126.4,1515.1 1127.9,1512.5 1128.2,1510.8 1128.5,1508.3 1128.9,1505.1 1129.2,1502.4 1129.5,1499.9 1129.8,1497.4 1130.1,1494.7 1130.5,1491.8 1130.8,1489.6 1131.1,1488.0 1131.4,1485.3 1131.8,1483.1 1132.1,1480.2 1132.4,1477.0 1132.7,1474.7 1133.0,1471.3 1133.4,1469.0 1133.7,1466.8 1134.0,1464.5 1134.8,1467.2 1135.6,1469.4 1136.4,1471.7 1137.2,1473.7 1138.0,1476.4 1138.3,1479.7 1138.6,1482.3 1139.0,1483.9 1139.3,1486.0 1139.6,1489.1 1139.9,1492.0 1140.2,1494.2 1140.6,1497.4 1140.9,1500.1 1141.2,1502.5 1141.5,1504.3 1141.9,1506.6 1142.2,1508.8 1142.5,1511.6 1142.8,1514.6 1143.1,1517.8 1143.5,1519.4 1143.8,1522.2 1144.1,1525.1 1144.6,1527.1 1145.1,1530.2 1145.6,1532.6 1146.1,1534.7 1146.6,1537.7 1147.1,1539.3 1147.6,1542.8 1148.1,1545.6 1148.6,1547.2 1149.1,1549.9 1149.6,1552.1 1150.1,1555.8 1151.1,1553.0 1152.1,1549.8 1153.2,1547.6 1154.2,1546.2 1155.2,1543.5 1156.2,1541.6 1157.5,1539.2 1158.9,1537.3 1160.2,1534.5 1161.5,1532.5 1162.9,1530.2 1164.2,1527.4 1166.2,1526.0 1168.2,1524.1 1170.3,1523.0 1172.3,1521.1 1175.0,1523.0 1177.6,1524.2 1180.3,1525.1 1181.0,1522.0 1181.7,1519.1 1182.3,1517.0 1183.0,1514.7 1183.7,1511.7 1184.4,1509.1 1185.0,1505.9 1185.7,1502.7 1186.4,1500.2 1187.4,1497.7 1188.4,1495.3 1189.4,1493.2 1190.4,1490.1 1192.4,1492.1 1194.5,1494.8 1196.5,1497.1 1199.0,1497.1 1201.5,1498.4 1204.0,1499.7 1206.5,1500.7 1209.5,1500.3 1212.6,1500.5 1213.0,1498.8 1213.5,1495.9 1213.9,1493.5 1214.4,1491.2 1214.8,1488.5 1215.3,1485.3 1215.7,1482.0 1216.2,1479.7 1216.6,1477.9 1217.0,1475.7 1217.5,1473.4 1217.9,1470.0 1218.4,1467.7 1218.8,1464.9 1219.3,1462.4 1219.7,1459.2 1220.2,1456.4 1220.6,1454.1 1222.1,1456.1 1223.6,1458.9 1225.1,1462.1 1226.6,1464.4 1227.4,1461.4 1228.1,1459.2 1228.9,1456.3 1229.7,1454.4 1230.4,1451.1 1231.2,1449.0 1231.9,1446.8 1232.7,1443.5 1233.3,1441.8 1233.8,1438.8 1234.4,1436.7 1235.0,1433.7 1235.5,1431.6 1236.1,1429.0 1236.7,1426.7 1237.2,1424.9 1237.8,1422.1 1238.4,1425.1 1239.1,1428.0 1239.7,1429.7 1240.3,1431.7 1241.0,1434.0 1241.6,1437.3 1242.3,1440.9 1242.9,1442.7 1243.5,1445.5 1244.2,1448.4 1244.8,1450.8 1245.5,1453.6 1246.2,1456.7 1246.8,1458.2 1247.5,1460.3 1248.2,1463.0 1248.9,1465.7 1249.5,1469.2 1250.2,1472.0 1250.9,1474.2 1252.4,1476.8 1253.9,1479.1 1255.4,1480.2 1256.9,1482.6" fill="none" stroke="#ff88ff" stroke-width="3.5" stroke-linecap="round" stroke-linejoin="round"/>
<polyline points="757.6,1267.3 757.7,1270.7 757.7,1272.7 757.8,1275.6 757.8,1278.7 757.9,1281.6 758.0,1283.8 758.0,1286.3 758.1,1288.2 758.2,1291.2 758.2,1293.8 758.3,1297.2 758.3,1299.6 758.4,1302.5 761.6,1305.0 762.2,1307.1 762.9,1310.6 763.5,1313.4 764.2,1315.4 764.8,1317.4 765.4,1320.3 766.0,1322.9 766.7,1325.8 767.3,1328.1 767.9,1330.4 768.5,1332.9 769.2,1335.1 769.8,1336.9 770.4,1339.2 771.0,1343.0 771.7,1345.7 772.3,1347.4 772.9,1350.6 773.5,1352.7 774.1,1354.4 774.8,1357.9 775.4,1360.3 776.0,1363.3 776.6,1365.6 777.3,1367.1 777.9,1370.1 778.5,1373.0 779.1,1375.9 779.8,1377.5 780.4,1380.1 781.0,1382.9 781.6,1384.7 782.2,1388.0 782.8,1390.7 783.5,1392.0 784.1,1395.0 784.7,1397.3 785.3,1399.5 785.9,1402.5 786.5,1405.8 787.2,1407.8 787.8,1409.5 788.4,1412.3 789.0,1415.4 789.2,1418.5 789.4,1420.9 789.6,1422.4 789.7,1426.1 789.9,1428.5 790.1,1430.2 790.3,1432.7 790.5,1435.2 790.7,1438.7 790.9,1440.8 791.0,1444.3 791.2,1446.1 791.4,1449.2 791.6,1451.8 791.9,1453.6 792.1,1455.9 792.4,1459.8 792.7,1462.8 792.9,1464.1 793.2,1467.2 793.4,1470.3 793.7,1472.9 794.0,1475.4 794.2,1477.0 794.5,1479.8 794.7,1482.1 794.9,1485.3 795.1,1487.7 795.4,1490.4 795.6,1493.0 795.8,1494.8 796.0,1497.7 796.2,1499.3 796.4,1501.8 796.6,1505.4 796.9,1507.5 797.1,1510.3 797.3,1512.8 797.5,1514.8 798.0,1517.8 798.6,1521.0 799.1,1522.9 799.7,1525.4 800.2,1527.7 800.8,1530.2 801.3,1533.9 801.9,1536.6 802.4,1539.7 804.4,1542.0 806.4,1545.0 808.4,1546.5 811.3,1548.1 814.3,1550.1 816.3,1553.0 818.2,1556.6 820.2,1558.4 822.2,1561.4 824.2,1563.8 825.2,1561.0 826.2,1559.3 827.1,1557.2 828.1,1554.7 829.8,1552.6 831.4,1550.1 833.1,1547.7 834.1,1549.5 835.1,1551.2 836.0,1553.2 837.0,1556.4 838.0,1558.1 841.0,1558.7 844.0,1560.6 847.0,1561.0 849.9,1562.6 852.5,1562.1 855.2,1562.3 857.8,1561.7 860.8,1563.1 863.7,1564.1 866.7,1566.0 869.6,1567.8 872.6,1570.3 875.6,1572.7 878.5,1571.5 881.5,1570.6 884.5,1572.3 887.4,1574.5 889.4,1572.1 891.4,1570.6 893.4,1567.9 895.4,1570.6 897.3,1571.9 899.3,1573.8 901.3,1576.6 902.5,1574.0 903.7,1571.9 904.8,1569.0 906.0,1567.1 907.2,1564.2 909.2,1562.4 911.1,1560.4 913.1,1559.2 917.1,1561.2 917.6,1558.1 918.1,1555.8 918.6,1552.8 919.0,1550.2 919.5,1547.1 920.0,1544.4 920.5,1541.1 921.0,1539.4 923.0,1536.2 925.0,1533.5 925.4,1535.9 925.9,1537.5 926.3,1540.0 926.8,1543.8 927.2,1546.5 927.7,1549.5 928.1,1552.2 928.6,1553.8 929.0,1557.3 931.0,1555.0 932.9,1553.2 934.9,1550.9 935.6,1547.9 936.4,1545.6 937.1,1543.2 937.8,1540.4 938.6,1538.0 939.3,1535.7 940.1,1532.9 940.8,1530.2 942.8,1529.2 944.7,1526.8 946.7,1524.7 947.7,1522.7 948.7,1520.2 949.7,1517.1 950.7,1514.2 951.7,1512.2 952.7,1508.9 953.7,1511.5 954.7,1513.9 955.6,1517.3 956.6,1518.9 957.6,1521.8 958.6,1524.4 959.5,1526.3 960.5,1528.9 961.5,1532.7 962.5,1535.5 964.5,1536.6 966.5,1538.2 968.5,1541.3 971.1,1541.8 973.8,1542.6 976.4,1543.6 978.4,1540.0 980.3,1537.5 982.3,1535.5 983.3,1532.0 984.3,1529.1 985.2,1527.5 986.2,1525.1 987.2,1522.0 988.2,1518.6 991.2,1517.5 994.2,1514.9 995.2,1513.2 996.2,1510.2 997.2,1507.6 998.1,1506.0 999.1,1503.5 1000.1,1501.1 1000.4,1498.5 1000.8,1495.9 1001.1,1493.3 1001.4,1491.0 1001.8,1487.6 1002.1,1485.6 1002.4,1482.9 1002.8,1480.7 1003.1,1477.4 1003.4,1475.2 1003.8,1471.9 1004.1,1469.9 1005.5,1472.2 1006.9,1474.2 1008.2,1476.3 1009.6,1479.1 1011.0,1480.6 1011.5,1477.4 1012.0,1475.1 1012.5,1472.2 1013.0,1470.9 1013.5,1468.7 1014.0,1465.2 1014.6,1463.1 1015.1,1460.0 1015.6,1458.4 1016.1,1455.4 1016.6,1452.2 1017.1,1450.4 1017.6,1452.2 1018.1,1455.9 1018.6,1458.8 1019.1,1460.9 1019.6,1462.7 1020.1,1465.8 1020.6,1467.4 1021.1,1469.7 1021.3,1472.5 1021.5,1474.7 1021.7,1478.5 1022.0,1481.1 1022.2,1483.8 1022.4,1486.2 1022.6,1488.0 1022.8,1490.4 1023.0,1493.5 1023.3,1496.5 1023.5,1498.9 1023.7,1500.9 1023.9,1504.0 1024.1,1506.1 1024.3,1508.9 1024.6,1511.9 1024.8,1514.3 1025.0,1516.4 1025.2,1519.1 1027.2,1516.5 1029.2,1514.7 1031.2,1513.4 1032.9,1511.0 1034.6,1508.1 1036.2,1507.1 1037.9,1504.4 1039.6,1501.9 1041.3,1500.7 1043.3,1503.2 1045.3,1504.3 1047.3,1506.6 1049.3,1508.7 1050.5,1510.6 1051.7,1513.7 1053.0,1515.7 1054.2,1518.7 1055.4,1521.0 1056.0,1518.3 1056.6,1515.2 1057.2,1513.3 1057.8,1509.7 1058.4,1507.3 1059.0,1504.4 1059.6,1501.7 1060.2,1498.9 1060.8,1497.0 1061.4,1493.9 1061.9,1491.4 1062.3,1489.4 1062.8,1487.5 1063.2,1484.4 1063.7,1482.5 1064.1,1480.1 1064.5,1478.2 1065.0,1475.7 1065.5,1473.5 1065.9,1470.2 1066.4,1468.3 1066.8,1465.1 1067.2,1462.3 1067.7,1460.0 1068.2,1457.0 1068.6,1455.4 1069.0,1452.2 1069.5,1450.4 1070.5,1452.0 1071.5,1454.8 1072.5,1457.0 1073.5,1460.4 1074.5,1462.0 1075.5,1464.2 1075.9,1466.7 1076.4,1469.0 1076.8,1472.3 1077.2,1474.6 1077.7,1477.0 1078.1,1479.6 1078.5,1482.3 1079.0,1485.6 1079.4,1487.5 1079.9,1489.7 1080.3,1492.5 1080.7,1495.6 1081.2,1497.8 1081.6,1500.1 1082.1,1503.1 1082.6,1506.9 1083.1,1509.9 1083.6,1512.0 1084.1,1514.6 1084.6,1516.8 1085.1,1520.2 1085.6,1523.3 1086.2,1520.1 1086.7,1517.9 1087.3,1514.6 1087.8,1512.2 1088.4,1509.6 1088.9,1507.8 1089.5,1505.2 1090.0,1502.5 1090.6,1499.8 1091.1,1497.3 1091.7,1494.7 1092.8,1496.6 1094.0,1499.7 1095.1,1502.2 1096.3,1503.9 1097.4,1506.0 1098.6,1509.1 1099.7,1510.2 1101.4,1513.4 1103.1,1515.0 1104.8,1517.2 1106.4,1519.8 1108.1,1522.6 1109.8,1524.6 1111.3,1526.9 1112.8,1529.0 1114.3,1531.6 1115.8,1533.3 1116.7,1535.3 1117.6,1538.2 1118.5,1540.7 1119.3,1542.8 1120.2,1545.9 1121.1,1547.4 1122.0,1551.2 1122.9,1554.0 1123.5,1550.2 1124.2,1548.3 1124.8,1545.1 1125.4,1543.7 1126.0,1540.7 1126.7,1538.5 1127.3,1535.3 1127.9,1533.2 1128.3,1529.7 1128.6,1528.1 1129.0,1525.0 1129.4,1522.1 1129.8,1519.9 1130.1,1517.5 1130.5,1514.3 1130.9,1511.7 1131.3,1509.5 1131.6,1507.3 1132.0,1505.1 1132.9,1506.9 1133.7,1510.3 1134.6,1512.4 1135.4,1515.9 1136.3,1517.7 1137.1,1520.2 1138.0,1522.7 1138.5,1519.7 1139.0,1518.4 1139.4,1515.7 1139.9,1513.4 1140.4,1510.1 1140.9,1507.8 1141.3,1505.1 1141.8,1502.5 1142.3,1500.2 1142.8,1498.1 1143.2,1495.5 1143.7,1493.3 1144.2,1491.4 1144.7,1488.5 1145.1,1486.2 1145.6,1484.0 1146.1,1481.6 1146.8,1483.4 1147.4,1486.5 1148.1,1489.2 1148.8,1490.7 1149.4,1494.4 1150.1,1497.5 1150.8,1500.3 1151.4,1502.1 1152.1,1505.2 1152.5,1507.9 1153.0,1509.8 1153.4,1512.4 1153.9,1514.5 1154.3,1517.7 1154.8,1519.8 1155.2,1521.7 1155.7,1524.3 1156.2,1527.0 1156.6,1529.2 1157.0,1531.5 1157.5,1534.4 1158.0,1536.5 1158.4,1539.2 1158.8,1541.0 1159.3,1543.7 1159.8,1545.9 1160.2,1548.8 1161.7,1546.7 1163.2,1544.8 1164.7,1542.3 1166.2,1541.6 1167.2,1538.1 1168.2,1534.8 1169.2,1532.9 1170.3,1529.5 1171.3,1527.5 1172.3,1525.5 1173.3,1522.0 1174.3,1520.0 1175.3,1518.3 1176.3,1515.2 1177.3,1512.5 1178.3,1509.9 1179.3,1508.3 1180.3,1506.2 1181.3,1503.3 1182.3,1500.6 1183.3,1503.9 1184.3,1505.3 1185.3,1508.3 1186.4,1510.8 1187.4,1512.7 1188.4,1515.4 1189.9,1512.7 1191.4,1511.5 1192.9,1509.4 1194.4,1507.2 1195.9,1510.0 1197.5,1512.3 1199.0,1515.1 1200.5,1516.9 1201.2,1514.2 1202.0,1512.5 1202.8,1509.4 1203.5,1506.5 1204.2,1504.7 1205.0,1501.6 1205.8,1499.1 1206.5,1496.8 1207.3,1498.6 1208.2,1502.1 1209.0,1504.6 1209.9,1506.2 1210.7,1508.5 1211.5,1511.3 1212.4,1514.1 1213.2,1517.3 1214.1,1520.0 1214.9,1522.5 1215.8,1525.0 1216.6,1527.2 1217.4,1523.8 1218.2,1521.3 1219.0,1519.4 1219.8,1515.8 1220.7,1513.3 1221.5,1510.3 1222.3,1508.1 1223.1,1505.6 1223.9,1503.3 1224.7,1500.2 1227.4,1499.3 1230.0,1497.4 1232.7,1497.0 1234.7,1495.3 1236.8,1492.7 1238.8,1491.3 1240.8,1489.2 1241.8,1486.2 1242.8,1483.6 1243.8,1480.6 1244.8,1477.4 1245.8,1475.7 1246.8,1472.3 1249.8,1472.1 1252.9,1470.5 1253.5,1473.3 1254.0,1476.1 1254.6,1478.4 1255.1,1482.0 1255.7,1484.7 1256.2,1486.7 1256.8,1489.1 1257.3,1492.6 1257.9,1494.7" fill="none" stroke="#0c1d8c" stroke-width="4" stroke-linecap="round" stroke-linejoin="round"/>
<polyline points="759.8,1362.4 760.0,1365.0 760.2,1368.1 760.3,1369.7 760.5,1372.0 760.7,1374.1 760.9,1376.6 761.1,1378.9 761.2,1381.6 761.4,1384.8 761.6,1388.2 761.8,1390.5 762.0,1392.5 762.1,1394.8 762.3,1397.8 762.5,1399.8 762.6,1401.8 762.7,1405.3 762.8,1407.8 762.9,1409.5 763.0,1411.7 763.1,1414.1 763.2,1418.0 763.3,1419.5 763.4,1422.6 763.5,1425.8 763.6,1427.0 763.7,1429.7 763.8,1432.4 763.8,1435.6 763.9,1437.2 764.0,1439.5 764.1,1442.0 764.2,1444.1 764.3,1447.5 764.4,1450.5 764.5,1452.6 764.6,1454.3 764.7,1457.6 764.8,1460.4 764.9,1462.9 765.0,1464.8 766.2,1469.0 767.5,1472.4 767.9,1469.6 768.2,1466.8 768.6,1463.6 769.0,1461.1 769.4,1459.1 769.8,1456.4 770.1,1453.2 770.5,1451.1 770.9,1448.7 771.2,1444.8 771.6,1442.0 772.0,1439.3 772.3,1436.5 772.6,1435.1 772.8,1432.8 773.1,1430.1 773.4,1428.3 773.7,1425.0 774.0,1422.0 774.2,1419.2 774.5,1417.0 774.8,1415.4 775.1,1412.7 775.4,1409.3 775.6,1407.2 775.9,1404.1 776.2,1402.4 776.5,1399.3 776.7,1396.7 777.0,1394.9 777.3,1393.0 777.6,1390.3 777.9,1387.2 778.1,1385.1 778.4,1382.1 778.7,1379.0 779.0,1376.8 779.3,1375.0 779.5,1372.6 779.8,1369.5 780.1,1367.8 780.4,1365.5 780.7,1362.2 780.9,1360.6 781.2,1357.2 781.5,1354.1 781.8,1352.1 782.1,1350.4 782.4,1347.7 782.6,1345.0 782.9,1342.4 783.2,1339.5 783.5,1336.9 783.8,1334.5 784.0,1332.3 784.3,1330.5 784.6,1326.8 784.9,1324.2 785.2,1322.6 785.5,1319.9 785.9,1316.3 786.2,1314.0 786.5,1311.9 786.8,1309.8 787.1,1306.0 787.4,1304.4 787.8,1301.9 788.1,1298.5 788.4,1296.1 788.7,1294.0 789.0,1290.6 789.3,1288.5 789.7,1285.9 790.0,1282.5 790.3,1279.9 790.6,1277.6 790.9,1274.6 791.1,1273.1 791.4,1269.8 791.6,1266.9 791.9,1264.7 792.2,1262.1 792.4,1259.2 792.7,1256.5 792.9,1254.1 793.2,1252.2 793.5,1248.4 793.7,1246.8 794.0,1244.5 794.2,1241.6 794.5,1239.0 794.8,1235.8 795.2,1233.9 795.5,1231.1 795.8,1228.3 796.2,1225.2 796.5,1222.1 796.8,1220.1 797.2,1217.7 797.5,1213.9 798.3,1211.3 799.1,1209.0 799.9,1205.8 800.7,1202.8 801.5,1200.1 803.1,1197.8 804.8,1196.0 806.4,1194.5 806.9,1192.3 807.4,1190.1 807.9,1187.2 808.3,1184.3 808.8,1183.0 809.3,1180.4 809.8,1178.0 810.3,1175.5 812.3,1172.0 814.3,1169.3 816.3,1166.0 818.3,1163.5 819.1,1161.1 819.9,1157.1 820.6,1155.3 821.4,1151.7 822.2,1148.5 824.2,1151.4 826.2,1155.1 827.0,1158.5 827.8,1161.4 828.7,1163.0 829.5,1165.7 830.3,1169.2 831.1,1172.0 832.7,1170.0 834.4,1167.0 836.0,1164.8 839.0,1163.6 842.0,1162.7 844.0,1161.0 845.9,1159.7 846.3,1157.0 846.6,1153.5 847.0,1150.6 847.4,1148.3 847.7,1146.4 848.1,1143.3 848.4,1141.0 848.8,1138.2 849.2,1135.8 849.5,1132.6 849.9,1129.6 850.9,1126.9 851.8,1124.7 852.8,1121.3 853.8,1118.2 854.5,1121.6 855.1,1123.8 855.8,1126.5 856.5,1128.2 857.1,1130.3 857.8,1132.9 859.0,1135.7 860.2,1137.5 861.3,1140.1 862.5,1143.6 863.7,1145.6 865.7,1142.1 867.6,1140.5 869.6,1137.4 870.9,1139.6 872.3,1142.9 873.6,1145.8 874.6,1147.6 875.6,1150.4 876.5,1153.1 877.5,1154.6 878.5,1157.0 879.5,1158.5 880.2,1156.7 881.0,1154.0 881.8,1152.0 882.5,1149.9 883.2,1146.8 884.0,1144.7 884.8,1142.8 885.5,1139.2 888.5,1138.9 891.4,1137.7 893.4,1140.3 895.3,1141.1 897.3,1143.2 899.0,1140.2 900.6,1137.7 902.3,1136.1 903.5,1138.3 904.8,1140.4 906.0,1143.7 907.2,1145.0 907.9,1147.2 908.5,1150.9 909.2,1153.5 909.9,1156.6 910.5,1158.8 911.2,1162.1 913.7,1159.3 916.1,1156.9 916.8,1160.3 917.5,1162.6 918.2,1164.2 918.9,1166.5 919.6,1168.9 920.3,1172.6 921.0,1175.3 921.8,1177.2 922.7,1180.7 923.5,1183.5 924.3,1186.0 925.2,1188.5 926.0,1190.9 927.0,1188.8 928.0,1186.1 928.9,1184.5 929.9,1181.8 930.9,1179.5 932.1,1177.4 933.4,1175.2 934.6,1172.0 935.9,1168.7 936.5,1171.8 937.1,1175.3 937.7,1177.1 938.3,1179.6 939.0,1182.3 939.6,1184.9 940.2,1188.5 940.8,1191.1 941.8,1192.9 942.8,1196.0 943.8,1199.1 944.5,1195.6 945.2,1193.2 946.0,1190.4 946.7,1188.9 948.2,1190.7 949.7,1192.1 951.2,1194.2 952.7,1196.2 954.2,1199.3 955.7,1201.7 957.1,1204.1 958.6,1206.4 959.6,1203.2 960.6,1200.9 961.5,1198.9 962.5,1196.2 963.5,1193.7 964.5,1190.4 965.1,1187.5 965.8,1186.0 966.4,1183.8 967.0,1181.2 967.7,1179.2 968.3,1175.8 969.0,1173.7 969.6,1170.6 970.2,1168.4 970.9,1166.5 971.5,1163.4 972.3,1166.2 973.1,1169.4 974.0,1171.4 974.8,1173.5 975.6,1177.1 976.4,1179.6 977.1,1181.6 977.7,1184.0 978.4,1186.1 979.1,1188.7 979.7,1192.8 980.4,1195.1 984.3,1197.4 985.5,1194.2 986.8,1192.4 988.0,1189.9 989.2,1187.7 989.8,1189.8 990.3,1193.0 990.9,1195.2 991.4,1197.1 992.0,1200.7 992.5,1202.6 993.1,1206.1 993.6,1208.3 994.2,1210.6 994.5,1213.3 994.9,1215.8 995.2,1217.9 995.5,1220.3 995.8,1222.9 996.2,1226.9 996.5,1229.0 996.8,1231.0 997.1,1234.0 997.5,1237.1 997.8,1239.9 998.1,1243.0 998.4,1244.9 998.6,1248.3 998.9,1249.7 999.2,1252.1 999.4,1255.3 999.7,1258.3 1000.0,1260.7 1000.2,1263.9 1000.5,1266.3 1000.8,1268.0 1001.0,1270.9 1001.3,1274.1 1001.6,1276.3 1001.8,1278.7 1002.1,1281.9 1005.0,1285.8 1006.6,1284.4 1008.2,1282.5 1009.0,1283.9 1009.8,1285.7 1010.7,1288.1 1011.5,1291.0 1012.3,1293.6 1012.5,1296.2 1012.6,1298.2 1012.8,1301.0 1013.0,1303.8 1013.2,1306.9 1013.3,1308.7 1013.5,1311.8 1013.7,1314.2 1013.8,1317.3 1014.0,1319.9 1014.2,1321.7 1014.3,1324.8 1014.5,1327.0 1014.7,1330.2 1014.9,1331.7 1015.0,1334.4 1015.2,1337.3 1015.4,1339.6 1015.5,1342.3 1015.7,1345.2 1015.9,1347.3 1016.1,1350.7 1016.2,1352.6 1016.4,1355.6 1016.7,1353.6 1017.1,1349.9 1017.4,1348.2 1017.8,1344.8 1018.1,1342.4 1018.5,1339.3 1018.8,1337.9 1019.1,1334.7 1019.5,1332.3 1019.8,1330.5 1020.2,1326.8 1020.5,1323.8 1020.6,1322.1 1020.7,1318.8 1020.9,1316.1 1021.0,1313.7 1021.1,1310.8 1021.2,1308.7 1021.3,1305.8 1021.4,1304.5 1021.5,1301.6 1021.7,1298.2 1021.8,1296.6 1021.9,1293.4 1022.0,1291.7 1022.1,1288.1 1022.2,1285.3 1022.4,1283.1 1022.5,1281.4 1022.6,1279.2 1022.7,1276.8 1022.8,1273.1 1023.0,1270.4 1023.1,1268.6 1023.2,1266.2 1023.3,1263.9 1023.4,1260.0 1023.5,1257.0 1023.7,1254.9 1023.8,1253.2 1023.9,1250.6 1024.0,1247.6 1024.1,1245.3 1024.2,1242.5 1024.4,1240.4 1024.5,1237.2 1024.6,1235.1 1024.7,1231.7 1025.7,1229.5 1026.7,1226.4 1027.7,1223.7 1028.2,1226.0 1028.7,1228.0 1029.3,1230.5 1029.8,1233.8 1030.3,1236.6 1030.8,1239.1 1031.3,1241.2 1031.9,1243.8 1032.4,1246.7 1032.9,1249.5 1033.5,1251.2 1034.1,1254.0 1034.7,1256.6 1035.3,1259.2 1036.0,1261.4 1036.6,1263.1 1037.2,1266.3 1037.8,1268.6 1038.4,1271.3 1039.0,1273.8 1039.5,1270.3 1040.0,1267.2 1040.6,1265.5 1041.1,1262.9 1041.6,1259.2 1042.1,1256.3 1042.6,1254.1 1043.2,1252.0 1043.7,1248.6 1044.2,1246.6 1044.6,1243.7 1045.1,1241.4 1045.5,1238.3 1045.9,1235.4 1046.4,1232.6 1046.8,1230.8 1047.2,1228.3 1047.7,1224.8 1048.1,1222.0 1048.6,1220.4 1049.0,1217.2 1049.4,1215.5 1049.9,1213.2 1050.3,1210.4 1050.6,1211.8 1050.9,1213.9 1051.2,1217.5 1051.5,1219.7 1051.8,1221.5 1052.1,1223.9 1052.4,1226.7 1052.7,1229.3 1053.1,1231.5 1053.4,1235.0 1053.7,1236.8 1054.0,1239.5 1054.3,1242.7 1054.6,1245.5 1054.9,1248.2 1055.2,1249.9 1055.5,1252.1 1056.3,1255.3 1057.0,1258.3 1057.8,1261.0 1058.5,1263.5 1059.3,1265.6 1060.1,1268.5 1060.8,1271.5 1061.6,1273.7 1062.0,1275.4 1062.4,1278.8 1062.8,1280.4 1063.2,1282.6 1063.6,1285.5 1064.1,1288.3 1064.5,1291.9 1064.9,1294.4 1065.3,1296.5 1065.7,1299.1 1066.1,1301.4 1066.5,1304.7 1066.9,1307.0 1067.3,1309.1 1067.8,1312.4 1068.2,1315.0 1068.6,1317.0 1069.0,1320.2 1069.4,1321.6 1069.8,1325.1 1070.2,1322.1 1070.6,1319.5 1071.0,1317.5 1071.5,1314.4 1071.9,1311.7 1072.3,1308.8 1072.7,1306.8 1073.1,1304.5 1073.5,1301.9 1073.9,1298.5 1074.4,1296.9 1074.8,1293.9 1075.2,1290.7 1075.6,1288.0 1076.0,1285.3 1076.4,1282.8 1076.9,1280.8 1077.3,1278.8 1077.7,1276.3 1078.1,1274.2 1081.2,1275.3 1084.2,1275.8 1084.9,1278.5 1085.6,1281.2 1086.3,1283.1 1087.0,1286.0 1087.6,1288.1 1088.3,1290.9 1089.0,1293.5 1089.7,1296.2 1090.4,1298.2 1091.2,1299.7 1092.1,1301.8 1093.0,1305.2 1093.8,1307.7 1094.7,1310.5 1095.5,1312.0 1096.0,1310.2 1096.5,1308.2 1097.0,1305.1 1097.6,1301.7 1098.1,1300.0 1098.6,1296.7 1099.1,1295.1 1099.6,1292.9 1100.1,1289.8 1100.6,1288.0 1101.2,1284.9 1101.7,1282.9 1102.2,1279.7 1102.7,1277.7 1103.0,1274.3 1103.3,1271.9 1103.5,1269.5 1103.8,1267.8 1104.1,1265.5 1104.4,1261.8 1104.7,1259.5 1105.0,1257.7 1105.2,1255.6 1105.5,1252.4 1105.8,1249.2 1106.1,1247.4 1106.4,1244.2 1106.6,1242.1 1106.9,1239.3 1107.2,1236.3 1107.5,1233.5 1107.8,1231.6 1108.1,1228.6 1108.3,1226.9 1108.6,1224.8 1108.9,1222.4 1109.9,1219.5 1111.0,1217.0 1112.0,1214.8 1113.0,1211.5 1114.7,1213.8 1116.4,1215.2 1118.1,1217.9 1118.7,1221.2 1119.3,1222.9 1119.9,1225.8 1120.5,1227.6 1121.1,1231.3 1121.7,1232.7 1122.3,1235.2 1122.9,1238.0 1123.5,1241.2 1124.1,1243.6 1124.7,1245.4 1125.3,1248.6 1125.9,1250.4 1126.4,1253.2 1127.0,1256.7 1127.6,1258.9 1128.2,1260.4 1128.7,1263.0 1129.3,1265.6 1129.9,1268.0 1130.4,1271.4 1131.0,1273.4 1131.6,1276.4 1132.2,1278.9 1132.7,1281.9 1133.3,1283.7 1133.9,1285.5 1134.5,1288.8 1135.0,1291.4 1135.6,1293.1 1136.3,1291.0 1137.0,1288.0 1137.6,1286.7 1138.3,1283.8 1139.0,1281.5 1139.7,1278.8 1140.4,1276.1 1141.1,1273.9 1141.8,1270.1 1142.4,1267.7 1143.1,1265.7 1143.8,1262.8 1144.3,1261.0 1144.8,1257.7 1145.3,1255.6 1145.8,1252.8 1146.4,1250.2 1146.9,1248.2 1147.4,1245.9 1147.9,1243.4 1148.2,1239.9 1148.5,1237.3 1148.8,1234.2 1149.1,1232.4 1149.5,1229.8 1149.8,1227.1 1150.1,1224.5 1150.4,1221.7 1150.7,1218.8 1151.0,1216.5 1151.3,1214.4 1151.6,1211.0 1151.9,1208.5 1152.2,1206.0 1152.5,1204.2 1152.9,1201.4 1153.2,1199.4 1153.5,1196.3 1153.8,1193.2 1154.1,1190.6 1155.3,1187.8 1156.5,1186.0 1157.7,1183.7 1158.9,1181.3 1160.1,1179.3 1161.3,1176.9 1162.8,1179.6 1164.3,1183.1 1164.5,1184.9 1164.8,1188.0 1165.0,1190.3 1165.2,1193.3 1165.4,1196.1 1165.7,1198.1 1165.9,1199.9 1166.1,1203.1 1166.3,1204.7 1166.6,1207.1 1166.8,1209.8 1167.0,1213.3 1167.3,1215.4 1167.5,1218.3 1167.7,1220.7 1167.9,1223.3 1168.2,1224.9 1168.4,1228.6 1170.5,1231.2 1172.6,1233.5 1174.3,1232.1 1176.0,1230.7 1177.7,1228.2 1178.4,1231.0 1179.2,1232.8 1179.9,1235.3 1180.6,1238.1 1181.3,1240.4 1182.1,1243.8 1182.8,1245.7 1183.8,1248.6 1184.9,1251.5 1185.9,1253.2 1186.9,1256.7 1188.0,1258.8 1189.0,1261.4 1190.2,1263.9 1191.5,1266.1 1192.7,1268.2 1194.0,1271.0 1195.2,1273.7 1196.8,1270.7 1198.5,1267.5 1200.1,1266.3 1201.8,1263.2 1203.4,1261.5 1204.4,1264.6 1205.5,1265.9 1206.5,1269.6 1207.1,1266.5 1207.6,1264.6 1208.2,1262.2 1208.8,1258.9 1209.3,1257.0 1209.9,1253.5 1210.5,1252.0 1211.0,1249.3 1211.6,1247.4 1213.7,1244.6 1215.7,1242.8 1216.0,1244.8 1216.2,1247.1 1216.5,1249.2 1216.7,1252.8 1217.0,1256.0 1217.2,1257.9 1217.5,1259.7 1217.8,1262.1 1218.0,1264.8 1218.3,1268.3 1218.5,1270.4 1218.8,1273.1 1219.0,1276.3 1219.3,1278.8 1219.5,1280.3 1219.8,1284.0 1220.3,1286.5 1220.7,1288.1 1221.2,1290.2 1221.6,1293.9 1222.1,1295.8 1222.5,1298.5 1223.0,1300.7 1223.4,1303.9 1223.9,1306.1 1225.5,1308.4 1227.0,1310.9 1228.5,1311.8 1230.1,1314.0 1230.5,1317.2 1230.8,1320.2 1231.2,1322.9 1231.6,1324.8 1232.0,1327.7 1232.3,1330.2 1232.7,1333.3 1233.1,1334.9 1233.5,1337.1 1233.8,1339.7 1234.2,1342.6 1236.3,1346.4 1238.4,1349.5 1240.9,1347.0 1243.4,1344.4 1244.4,1347.3 1245.5,1350.8 1246.5,1352.1 1247.6,1355.6 1248.6,1357.5 1249.1,1355.2 1249.5,1352.3 1250.0,1350.6 1250.4,1348.1 1250.9,1345.4 1251.3,1342.6 1251.8,1340.1 1252.2,1337.0 1252.7,1335.0 1253.1,1332.9 1253.5,1329.1 1253.9,1326.7 1254.3,1324.2 1254.8,1321.6 1255.2,1319.7 1255.6,1316.6 1256.0,1313.6 1256.4,1310.2 1256.8,1308.2" fill="none" stroke="#ff2a00" stroke-width="3.9" stroke-linecap="round" stroke-linejoin="round"/>
<rect x="806" y="1348" width="194" height="78" rx="6" fill="none" stroke="#666" stroke-width="2.2"/>
<circle cx="846.5" cy="1275.5" r="29" fill="none" stroke="#ee0000" stroke-width="4.5"/>
<circle cx="955" cy="1275.5" r="29" fill="none" stroke="#ff88ff" stroke-width="4"/>
<circle cx="846.5" cy="1387" r="29" fill="none" stroke="#0c1d8c" stroke-width="4.5"/>
<text x="846.5" y="1399" font-size="44" fill="#000" text-anchor="middle" stroke="#000" stroke-width="0.8">c</text>
<circle cx="955.3" cy="1387" r="29" fill="none" stroke="#00f0f0" stroke-width="4.5"/>
<text x="955.3" y="1399" font-size="44" fill="#000" text-anchor="middle" stroke="#000" stroke-width="0.8">e</text>
<text x="816" y="1337" font-size="26" fill="#222" text-anchor="start" textLength="167" lengthAdjust="spacingAndGlyphs" stroke="#222" stroke-width="0.4">Last valid pair</text>
<text x="1009" y="1399" font-size="26" fill="#222" text-anchor="start" textLength="139" lengthAdjust="spacingAndGlyphs" stroke="#222" stroke-width="0.4">First step in</text>
<text x="1009" y="1435" font-size="26" fill="#222" text-anchor="start" textLength="139" lengthAdjust="spacingAndGlyphs" stroke="#222" stroke-width="0.4">exploration</text>
<text x="824" y="1453.5" font-size="26" fill="#222" text-anchor="start" textLength="46" lengthAdjust="spacingAndGlyphs" stroke="#222" stroke-width="0.4">Last</text>
<text x="823.5" y="1490.5" font-size="26" fill="#222" text-anchor="start" textLength="117" lengthAdjust="spacingAndGlyphs" stroke="#222" stroke-width="0.4">rewarded</text>
<text x="823.5" y="1526.5" font-size="26" fill="#222" text-anchor="start" textLength="72" lengthAdjust="spacingAndGlyphs" stroke="#222" stroke-width="0.4">target</text>
<line x1="986.5" y1="1385" x2="1004" y2="1385" stroke="#aaa" stroke-width="3" stroke-linecap="butt"/>
<line x1="845" y1="1419" x2="845" y2="1432" stroke="#aaa" stroke-width="3" stroke-linecap="butt"/>
<line x1="844" y1="1244" x2="837.6277044391375" y2="1203.7539227734999" stroke="#111" stroke-width="2.2" stroke-linecap="butt"/>
<polygon points="834.5,1184.0 847.5,1202.2 827.8,1205.3" fill="#111"/>
<line x1="980" y1="1296" x2="1218.5350772538561" y2="1412.7101450111459" stroke="#111" stroke-width="2.2" stroke-linecap="butt"/>
<polygon points="1236.5,1421.5 1214.1,1421.7 1222.9,1403.7" fill="#111"/>
<line x1="822.5" y1="1412" x2="803.9953839908987" y2="1432.2394237599544" stroke="#111" stroke-width="2.2" stroke-linecap="butt"/>
<polygon points="790.5,1447.0 796.6,1425.5 811.4,1439.0" fill="#111"/>
<line x1="959.3" y1="1420.5" x2="973.7239887201113" y2="1558.708037372703" stroke="#111" stroke-width="2.2" stroke-linecap="butt"/>
<polygon points="975.8,1578.6 963.8,1559.7 983.7,1557.7" fill="#111"/>
<text x="534" y="1819" font-size="62" fill="#930f04" text-anchor="start" textLength="309" lengthAdjust="spacingAndGlyphs" stroke="#930f04" stroke-width="1"><tspan font-style="italic">η</tspan> = 5 (high)</text>
<path d="M87.5,1915 L87.5,2412.5 L589,2412.5" fill="none" stroke="#e8e8e8" stroke-width="3.2" stroke-linejoin="round" stroke-linecap="round"/>
<line x1="87.5" y1="2015" x2="91.5" y2="2015" stroke="#e8e8e8" stroke-width="1.5" stroke-linecap="butt"/>
<line x1="87.5" y1="2115" x2="91.5" y2="2115" stroke="#e8e8e8" stroke-width="1.5" stroke-linecap="butt"/>
<line x1="87.5" y1="2217.5" x2="91.5" y2="2217.5" stroke="#e8e8e8" stroke-width="1.5" stroke-linecap="butt"/>
<line x1="87.5" y1="2317.5" x2="91.5" y2="2317.5" stroke="#e8e8e8" stroke-width="1.5" stroke-linecap="butt"/>
<line x1="338" y1="2412.5" x2="338" y2="2408.5" stroke="#e8e8e8" stroke-width="1.5" stroke-linecap="butt"/>
<text x="85" y="1915" font-size="32" fill="#222" text-anchor="end" textLength="75" lengthAdjust="spacingAndGlyphs" stroke="#222" stroke-width="0.5">100%</text>
<text x="83" y="2415" font-size="32" fill="#222" text-anchor="end" textLength="42" lengthAdjust="spacingAndGlyphs" stroke="#222" stroke-width="0.5">0%</text>
<text x="88" y="2443" font-size="31" fill="#222" text-anchor="start" stroke="#222" stroke-width="0.5">1</text>
<text x="577" y="2443" font-size="31" fill="#222" text-anchor="start" textLength="28" lengthAdjust="spacingAndGlyphs" stroke="#222" stroke-width="0.5">10</text>
<text x="606" y="2433" font-size="17" fill="#222" text-anchor="start" stroke="#222" stroke-width="0.5">5</text>
<text x="267" y="2467.5" font-size="43" fill="#000" text-anchor="start" textLength="155" lengthAdjust="spacingAndGlyphs" stroke="#000" stroke-width="0.5">Trial No</text>
<text x="73.5" y="2290" font-size="46" fill="#000" text-anchor="start" textLength="290" lengthAdjust="spacingAndGlyphs" transform="rotate(-90 73.5 2290)" stroke="#000" stroke-width="0.5">Referred State</text>
<line x1="88" y1="1915" x2="589" y2="1915" stroke="#ffb3df" stroke-width="3" stroke-linecap="butt"/>
<line x1="88" y1="2412.5" x2="589" y2="2412.5" stroke="#ff1f8e" stroke-width="4" stroke-linecap="butt"/>
<line x1="93" y1="2412.5" x2="589" y2="2412.5" stroke="#7d0a3c" stroke-width="5" stroke-linecap="round" stroke-dasharray="4 14"/>
<rect x="190" y="2119" width="53" height="13" fill="#ffb3df"/>
<text x="259" y="2135" font-size="30" fill="#222" text-anchor="start" textLength="226" lengthAdjust="spacingAndGlyphs" stroke="#222" stroke-width="0.4">Previous 1 trial</text>
<rect x="190" y="2162.5" width="53" height="12" fill="#ff1f8e"/>
<text x="259" y="2177.5" font-size="30" fill="#222" text-anchor="start" textLength="101" lengthAdjust="spacingAndGlyphs" stroke="#222" stroke-width="0.4">2 trials</text>
<line x1="191" y1="2209.5" x2="244" y2="2209.5" stroke="#7d0a3c" stroke-width="9" stroke-linecap="butt" stroke-dasharray="10 9"/>
<text x="259" y="2220" font-size="30" fill="#222" text-anchor="start" textLength="233" lengthAdjust="spacingAndGlyphs" stroke="#222" stroke-width="0.4">3 trials or more</text>
<text x="752.5" y="1887.5" font-size="36" fill="#222" text-anchor="start" textLength="502" lengthAdjust="spacingAndGlyphs" stroke="#222" stroke-width="0.4">2<tspan font-size="22" dy="-14">nd</tspan><tspan dy="14"> trial in exploration phase</tspan></text>
<path d="M754,1907.5 L754,2411 L1257.5,2411" fill="none" stroke="#c8c8c8" stroke-width="3.5" stroke-linejoin="round" stroke-linecap="round"/>
<line x1="754" y1="2010" x2="758" y2="2010" stroke="#c8c8c8" stroke-width="1.5" stroke-linecap="butt"/>
<line x1="754" y1="2110" x2="758" y2="2110" stroke="#c8c8c8" stroke-width="1.5" stroke-linecap="butt"/>
<line x1="754" y1="2210.5" x2="758" y2="2210.5" stroke="#c8c8c8" stroke-width="1.5" stroke-linecap="butt"/>
<line x1="754" y1="2311" x2="758" y2="2311" stroke="#c8c8c8" stroke-width="1.5" stroke-linecap="butt"/>
<line x1="1006" y1="2411" x2="1006" y2="2407" stroke="#c8c8c8" stroke-width="1.5" stroke-linecap="butt"/>
<text x="742.5" y="1915" font-size="32" fill="#222" text-anchor="end" textLength="75" lengthAdjust="spacingAndGlyphs" stroke="#222" stroke-width="0.5">100%</text>
<text x="740" y="2415" font-size="32" fill="#222" text-anchor="end" textLength="42" lengthAdjust="spacingAndGlyphs" stroke="#222" stroke-width="0.5">0%</text>
<text x="749" y="2445" font-size="31" fill="#222" text-anchor="start" stroke="#222" stroke-width="0.5">1</text>
<text x="1237.5" y="2445" font-size="31" fill="#222" text-anchor="start" textLength="28" lengthAdjust="spacingAndGlyphs" stroke="#222" stroke-width="0.5">10</text>
<text x="1266" y="2435" font-size="17" fill="#222" text-anchor="start" stroke="#222" stroke-width="0.5">5</text>
<text x="927.5" y="2470" font-size="43" fill="#000" text-anchor="start" textLength="155" lengthAdjust="spacingAndGlyphs" stroke="#000" stroke-width="0.5">Trial No</text>
<text x="734" y="2252.5" font-size="46" fill="#000" text-anchor="start" textLength="230" lengthAdjust="spacingAndGlyphs" transform="rotate(-90 734 2252.5)" stroke="#000" stroke-width="0.5">Select Rate</text>
<polyline points="754.0,2314.6 755.0,2315.1 755.3,2317.2 755.7,2320.6 756.0,2322.6 756.4,2325.4 756.7,2328.6 757.0,2330.6 757.4,2333.7 757.7,2336.2 758.1,2338.4 758.4,2341.0 758.7,2343.5 759.1,2345.7 759.4,2349.0 759.8,2351.0 760.1,2354.2 762.1,2356.2 764.1,2357.1 766.1,2359.0 769.2,2361.3 772.2,2363.9 773.8,2365.6 775.4,2368.4 777.0,2370.6 778.6,2373.5 780.2,2376.3 782.7,2376.7 785.2,2376.4 787.8,2377.5 790.3,2377.7 792.7,2379.8 795.1,2381.0 797.6,2383.1 800.0,2385.0 802.4,2386.4 805.1,2385.0 807.8,2383.7 810.5,2382.0 812.5,2379.7 814.5,2379.0 816.5,2377.0 818.5,2374.6 820.5,2373.3 823.0,2374.9 825.5,2376.1 828.1,2378.6 830.6,2379.2 833.1,2379.6 835.7,2378.9 838.2,2377.8 840.7,2377.4 842.4,2379.9 844.1,2381.8 845.8,2384.9 847.4,2387.4 849.1,2390.2 850.8,2392.5 852.8,2393.9 854.8,2395.7 856.8,2397.2 858.8,2398.3 860.8,2396.0 862.8,2393.9 864.9,2392.3 866.9,2390.5 868.9,2389.0 870.9,2387.4 872.9,2384.8 874.9,2383.5 877.6,2382.4 880.3,2382.3 883.0,2381.8 885.0,2380.3 887.0,2379.2 889.1,2376.9 891.1,2375.9 893.1,2377.8 895.1,2379.3 897.1,2382.2 899.1,2383.2 901.1,2385.1 903.1,2386.9 905.2,2388.7 907.2,2390.9 909.2,2392.1 911.2,2390.4 913.2,2387.7 915.3,2385.7 917.3,2383.2 919.8,2385.3 922.3,2386.7 924.8,2388.6 927.3,2389.4 930.0,2390.3 932.7,2391.7 935.4,2391.3 937.4,2390.3 939.4,2388.8 941.5,2387.3 943.5,2385.5 945.5,2383.8 947.5,2385.9 949.5,2386.6 951.5,2388.5 953.5,2390.1 956.0,2389.2 958.5,2387.8 961.1,2386.1 963.6,2385.9 966.3,2386.1 969.0,2387.4 971.7,2388.5 974.4,2389.7 977.1,2390.5 979.8,2392.3 981.8,2390.3 983.8,2388.5 985.8,2387.2 987.8,2385.9 990.2,2386.8 992.6,2387.5 995.1,2388.1 997.5,2389.3 999.9,2389.6 1002.5,2389.9 1005.0,2389.1 1006.2,2386.8 1007.3,2385.5 1008.5,2382.5 1009.6,2380.3 1010.8,2377.5 1011.9,2376.1 1013.1,2373.4 1015.6,2371.4 1018.1,2370.1 1020.6,2369.5 1023.1,2368.1 1025.1,2369.1 1027.2,2372.1 1029.2,2373.1 1031.2,2371.4 1033.2,2369.6 1035.2,2368.0 1037.2,2365.2 1039.2,2364.4 1041.2,2362.3 1043.3,2361.3 1045.3,2360.2 1046.3,2362.2 1047.3,2363.6 1048.3,2366.6 1049.4,2368.8 1050.4,2371.6 1051.4,2374.1 1052.5,2375.8 1053.7,2378.8 1054.8,2381.6 1056.0,2384.7 1057.1,2387.0 1058.3,2389.5 1059.4,2392.3 1061.4,2389.4 1063.5,2388.2 1065.5,2386.0 1067.5,2384.0 1070.2,2382.6 1072.8,2382.3 1075.5,2381.5 1077.5,2383.3 1079.5,2386.2 1081.6,2388.4 1083.6,2389.9 1085.6,2391.2 1088.3,2391.6 1091.0,2390.1 1093.7,2389.7 1095.7,2387.8 1097.7,2386.3 1099.7,2384.1 1101.7,2382.0 1103.7,2379.8 1105.3,2382.4 1106.9,2384.4 1108.6,2385.8 1110.2,2388.2 1111.8,2390.6 1113.8,2391.6 1115.8,2392.5 1117.9,2393.8 1119.9,2396.6 1121.9,2397.5 1123.9,2396.5 1125.9,2394.1 1128.0,2392.3 1130.0,2390.4 1132.0,2389.6 1134.0,2387.2 1136.0,2389.5 1138.0,2392.1 1140.0,2393.9 1142.1,2395.1 1144.1,2396.9 1146.1,2400.0 1147.6,2397.6 1149.1,2395.1 1150.6,2393.6 1152.2,2392.1 1153.7,2389.6 1155.2,2387.2 1156.7,2385.1 1158.2,2383.5 1160.2,2382.0 1162.2,2379.2 1164.2,2377.9 1166.2,2375.9 1168.2,2373.8 1170.2,2371.9 1172.2,2369.7 1174.3,2368.6 1176.3,2367.0 1178.3,2365.8 1181.0,2363.7 1183.7,2362.2 1186.4,2360.6 1189.1,2360.6 1191.7,2359.5 1194.4,2359.3 1196.4,2361.0 1198.4,2362.5 1200.5,2363.8 1202.5,2366.4 1204.5,2367.7 1206.1,2369.3 1207.6,2372.0 1209.2,2374.7 1210.8,2376.6 1212.3,2379.3 1213.9,2381.6 1215.5,2383.7 1217.0,2384.9 1218.6,2387.4 1220.6,2386.1 1222.7,2384.2 1224.7,2383.1 1226.7,2381.9 1229.4,2381.4 1232.1,2380.9 1234.8,2380.2 1237.5,2378.9 1240.2,2378.5 1242.9,2377.7 1244.9,2376.0 1246.9,2373.2 1248.9,2371.0 1251.4,2371.7 1253.9,2371.6" fill="none" stroke="#55ffff" stroke-width="3.5" stroke-linecap="round" stroke-linejoin="round"/>
<polyline points="754.0,2411.7 754.5,2407.0 755.0,2404.1 755.1,2401.4 755.2,2399.4 755.3,2396.3 755.4,2394.3 755.5,2390.8 755.6,2389.2 755.7,2386.1 755.8,2383.0 755.9,2380.6 756.0,2378.4 756.1,2375.2 756.2,2372.9 756.3,2369.9 756.4,2367.3 756.5,2364.9 756.7,2362.5 756.8,2360.0 756.9,2358.2 757.0,2355.3 757.1,2353.3 757.2,2351.0 757.3,2348.5 757.4,2346.0 757.5,2343.0 757.6,2340.4 757.7,2338.2 757.8,2335.2 757.9,2332.0 758.0,2329.8 758.1,2327.3 760.1,2329.9 762.1,2332.6 763.4,2335.3 764.8,2338.8 766.1,2341.9 768.1,2343.8 770.2,2345.4 772.2,2346.7 774.2,2348.5 775.7,2347.3 777.2,2345.4 778.7,2343.3 780.2,2340.9 781.7,2338.7 783.2,2336.7 784.8,2334.6 786.3,2333.2 787.5,2335.4 788.7,2338.1 789.9,2340.5 791.1,2343.0 792.3,2345.8 795.0,2345.9 797.7,2345.1 800.4,2345.9 802.4,2348.1 804.4,2350.1 806.4,2351.6 809.1,2351.5 811.8,2350.7 814.5,2349.2 817.2,2348.3 819.9,2347.3 822.6,2345.9 824.6,2348.1 826.6,2349.7 828.6,2351.8 830.6,2349.0 832.6,2347.5 834.6,2344.9 837.3,2345.6 840.0,2346.0 842.7,2345.4 843.7,2342.4 844.7,2339.9 845.8,2338.1 846.8,2335.5 847.8,2333.8 848.8,2331.5 849.7,2328.9 850.6,2326.6 851.5,2323.5 852.4,2321.3 853.2,2318.3 854.1,2316.4 855.0,2314.4 855.9,2311.2 856.8,2309.3 859.5,2310.5 862.2,2310.5 864.9,2310.8 866.9,2308.7 868.9,2307.5 870.9,2304.6 873.4,2305.3 876.0,2304.8 878.5,2305.4 881.0,2305.7 882.2,2308.4 883.3,2310.0 884.5,2312.9 885.6,2315.2 886.8,2318.5 887.9,2320.5 889.1,2322.7 890.6,2320.4 892.1,2317.5 893.6,2315.1 895.1,2313.3 897.8,2311.6 900.5,2310.0 903.2,2309.6 905.9,2307.6 908.5,2306.8 911.2,2305.5 912.8,2302.9 914.4,2300.5 916.1,2298.0 917.7,2296.0 919.3,2293.4 921.8,2291.3 924.3,2290.2 926.9,2288.6 929.4,2287.6 930.4,2289.0 931.4,2291.5 932.4,2294.7 933.4,2296.0 934.4,2298.9 935.4,2301.7 936.6,2303.9 937.8,2305.4 939.1,2308.6 940.3,2310.5 941.5,2313.1 943.0,2311.6 944.5,2309.0 946.0,2306.7 947.5,2304.4 950.2,2304.0 952.9,2303.1 955.6,2303.2 958.3,2302.9 960.9,2301.3 963.6,2301.0 965.1,2304.0 966.7,2306.7 968.2,2308.5 969.7,2311.2 971.0,2309.2 972.4,2306.8 973.7,2305.2 975.1,2303.0 976.4,2300.9 977.8,2297.5 979.1,2294.7 980.5,2293.1 981.8,2291.1 984.3,2291.2 986.8,2291.5 989.4,2292.8 991.9,2293.5 993.9,2290.9 995.9,2289.1 997.9,2288.3 999.9,2286.5 1001.9,2284.5 1005.0,2285.5 1006.2,2287.2 1007.3,2289.0 1008.5,2291.6 1009.6,2294.0 1010.8,2296.6 1011.9,2299.2 1013.1,2300.6 1014.2,2303.5 1015.4,2306.8 1016.5,2309.0 1017.7,2312.0 1018.8,2314.8 1020.0,2317.3 1021.1,2319.6 1023.6,2319.3 1026.2,2320.7 1028.7,2320.6 1031.2,2320.9 1034.2,2322.1 1037.2,2323.2 1038.4,2326.0 1039.6,2328.2 1040.9,2331.1 1042.1,2333.5 1043.3,2335.7 1044.5,2332.7 1045.7,2330.6 1046.9,2328.1 1048.1,2326.0 1049.3,2323.0 1051.3,2321.5 1053.3,2319.6 1055.4,2316.9 1057.4,2315.7 1059.4,2313.3 1061.0,2315.2 1062.6,2317.0 1064.3,2319.0 1065.9,2321.6 1067.5,2323.9 1069.0,2325.9 1070.5,2328.3 1072.0,2330.8 1073.5,2332.8 1075.1,2331.3 1076.7,2328.5 1078.4,2325.4 1080.0,2323.0 1081.6,2320.7 1084.3,2322.8 1086.9,2323.6 1089.6,2324.7 1092.7,2324.6 1095.7,2323.0 1096.7,2326.1 1097.7,2327.4 1098.7,2329.5 1099.7,2332.0 1100.7,2334.6 1101.7,2337.3 1102.7,2334.5 1103.7,2332.8 1104.7,2330.6 1105.8,2327.6 1106.8,2325.5 1107.8,2323.0 1108.8,2320.6 1109.8,2317.6 1111.1,2314.5 1112.3,2312.6 1113.6,2309.8 1114.8,2307.8 1116.1,2306.5 1117.4,2303.7 1118.6,2301.6 1119.9,2299.8 1121.0,2302.2 1122.2,2304.3 1123.3,2306.9 1124.5,2308.9 1125.6,2312.3 1126.8,2314.9 1127.9,2317.0 1129.9,2315.6 1132.0,2314.7 1134.0,2312.2 1136.0,2310.7 1139.0,2313.2 1142.0,2315.6 1143.0,2313.0 1144.0,2310.7 1145.0,2307.5 1146.1,2305.7 1147.1,2303.5 1148.1,2300.5 1149.2,2303.3 1150.4,2305.3 1151.5,2307.7 1152.7,2310.6 1153.8,2313.2 1155.0,2314.4 1156.1,2316.5 1158.6,2316.2 1161.2,2315.8 1163.7,2314.6 1166.2,2313.1 1169.2,2315.5 1172.3,2317.9 1175.0,2317.5 1177.6,2317.8 1180.3,2318.9 1181.8,2321.4 1183.3,2323.3 1184.9,2325.3 1186.4,2326.8 1188.9,2327.2 1191.5,2327.5 1194.0,2328.5 1196.5,2328.9 1198.5,2331.3 1200.5,2333.3 1202.5,2335.0 1204.5,2337.6 1207.2,2336.5 1209.9,2335.9 1212.6,2335.2 1214.6,2337.6 1216.6,2340.1 1218.7,2341.9 1220.7,2342.8 1222.7,2345.6 1224.2,2347.5 1225.7,2349.7 1227.2,2350.9 1228.7,2352.6 1230.7,2350.5 1232.8,2348.6 1234.8,2346.6 1236.8,2345.5 1239.2,2346.6 1241.6,2347.0 1244.1,2347.4 1246.5,2348.4 1248.9,2348.8 1250.2,2346.4 1251.4,2344.2 1252.7,2342.4 1253.9,2339.4" fill="none" stroke="#ff88ff" stroke-width="3.5" stroke-linecap="round" stroke-linejoin="round"/>
<polyline points="754.0,2200.2 755.0,2198.9 755.4,2195.8 755.9,2193.5 756.3,2191.3 756.8,2188.2 757.2,2185.8 757.7,2183.2 758.1,2180.8 762.1,2181.7 763.1,2183.9 764.1,2187.4 765.1,2189.8 766.1,2191.4 767.1,2194.2 768.1,2195.9 770.2,2199.0 772.2,2202.1 774.2,2203.9 776.2,2205.7 778.2,2208.2 779.7,2211.1 781.2,2213.2 782.8,2216.1 784.3,2219.1 787.3,2216.0 790.3,2214.0 792.3,2212.2 794.3,2211.4 796.4,2209.8 798.4,2208.3 801.4,2210.0 804.4,2212.7 805.9,2214.9 807.5,2216.5 809.0,2218.9 810.5,2220.3 813.5,2221.2 816.5,2223.1 820.5,2224.3 822.0,2221.4 823.5,2218.6 825.1,2216.9 826.6,2214.8 828.6,2211.9 830.6,2210.2 832.1,2212.7 833.7,2215.1 835.2,2217.5 836.7,2220.2 839.7,2220.9 842.7,2222.9 845.8,2222.2 848.8,2222.5 851.8,2223.7 854.8,2224.8 857.8,2225.5 860.8,2226.5 862.3,2229.6 863.8,2231.3 865.4,2233.6 866.9,2236.2 867.9,2239.3 868.9,2241.6 869.9,2244.0 870.9,2246.1 872.9,2244.0 875.0,2242.6 877.0,2240.2 878.5,2237.9 880.0,2235.1 881.5,2232.6 883.0,2230.0 884.0,2228.2 885.0,2225.4 886.0,2222.5 887.1,2219.4 888.1,2217.4 889.1,2214.6 891.1,2211.9 893.1,2209.8 895.1,2208.9 898.1,2206.2 901.1,2204.1 903.1,2205.7 905.2,2208.7 907.2,2210.1 908.2,2212.9 909.2,2215.8 910.2,2218.1 911.2,2220.4 912.4,2222.5 913.6,2225.5 914.9,2227.5 916.1,2230.3 917.3,2233.3 919.3,2235.4 921.3,2237.1 923.3,2238.9 923.8,2240.7 924.3,2243.9 924.8,2246.8 925.3,2248.6 925.8,2250.5 926.3,2253.5 926.8,2256.0 927.3,2259.1 930.3,2260.2 933.4,2260.9 936.4,2259.8 939.4,2258.7 940.6,2256.5 941.8,2254.2 943.1,2251.8 944.3,2248.8 945.5,2247.0 946.7,2243.8 947.9,2241.4 949.1,2239.4 950.3,2236.3 951.5,2234.5 954.5,2235.3 957.6,2236.3 960.6,2234.9 963.6,2234.2 966.6,2235.6 969.6,2236.0 972.1,2237.4 974.7,2238.4 977.2,2238.4 979.8,2238.8 981.1,2241.4 982.5,2243.7 983.8,2246.0 985.1,2248.1 986.5,2250.4 987.8,2252.5 988.8,2254.8 989.8,2258.3 990.8,2261.0 991.9,2262.8 992.9,2266.3 993.9,2269.5 995.4,2266.9 996.9,2265.4 998.4,2262.6 999.9,2260.9 1002.5,2259.2 1005.0,2256.7 1007.7,2255.7 1010.4,2254.8 1013.1,2254.6 1016.1,2253.4 1019.1,2252.6 1020.3,2250.4 1021.5,2247.5 1022.8,2245.2 1024.0,2242.3 1025.2,2240.6 1027.2,2238.9 1029.2,2236.4 1031.2,2234.1 1033.2,2232.6 1035.2,2230.4 1036.7,2233.0 1038.2,2235.0 1039.8,2236.7 1041.3,2238.5 1042.3,2241.4 1043.3,2244.1 1044.3,2246.7 1045.3,2249.4 1046.3,2251.9 1047.3,2254.9 1050.3,2254.7 1053.4,2254.2 1055.4,2256.8 1057.4,2258.5 1059.4,2260.5 1061.0,2258.4 1062.6,2256.5 1064.3,2253.6 1065.9,2251.0 1067.5,2248.9 1069.0,2247.2 1070.5,2245.2 1072.0,2243.5 1073.5,2240.2 1073.9,2238.0 1074.2,2235.3 1074.6,2232.7 1075.0,2230.0 1075.4,2227.8 1075.7,2225.6 1076.1,2223.0 1076.5,2219.6 1076.9,2217.3 1077.2,2215.4 1077.6,2212.4 1079.6,2210.1 1081.6,2208.1 1082.8,2210.9 1084.0,2213.0 1085.2,2215.1 1086.4,2217.2 1087.6,2219.7 1090.7,2220.5 1093.7,2219.9 1095.2,2217.6 1096.7,2215.0 1098.2,2213.2 1099.7,2211.0 1102.4,2211.3 1105.1,2212.4 1107.8,2213.9 1109.0,2216.2 1110.2,2219.0 1111.4,2222.2 1112.6,2224.1 1113.8,2226.8 1114.3,2229.1 1114.7,2232.1 1115.2,2233.9 1115.6,2236.6 1116.1,2238.4 1116.5,2241.0 1117.0,2243.0 1117.4,2246.0 1117.9,2248.8 1118.8,2245.7 1119.6,2243.4 1120.5,2241.1 1121.3,2238.1 1122.2,2236.3 1123.0,2232.7 1123.9,2230.2 1125.1,2228.7 1126.3,2226.5 1127.5,2223.5 1128.7,2220.4 1129.9,2218.1 1133.0,2218.2 1136.0,2218.1 1138.5,2218.2 1141.0,2218.2 1143.6,2218.9 1146.1,2217.9 1148.8,2219.4 1151.4,2219.7 1154.1,2221.1 1156.8,2221.3 1159.5,2221.3 1162.2,2220.8 1162.9,2223.8 1163.5,2225.5 1164.2,2228.2 1164.9,2230.6 1165.5,2233.1 1166.2,2236.9 1166.9,2239.2 1167.5,2241.5 1168.2,2245.0 1170.9,2245.9 1173.6,2246.3 1176.3,2246.5 1177.2,2248.6 1178.1,2250.9 1179.0,2254.0 1179.9,2257.1 1180.8,2259.3 1181.7,2261.2 1182.6,2263.3 1183.5,2266.7 1184.4,2269.3 1185.4,2271.6 1186.4,2274.4 1187.4,2276.3 1188.4,2278.9 1189.4,2282.8 1190.4,2284.5 1192.4,2283.7 1194.5,2281.6 1196.5,2280.6 1198.5,2278.5 1201.5,2280.2 1204.5,2282.9 1206.2,2281.2 1207.9,2278.4 1209.5,2276.5 1211.2,2273.9 1212.9,2271.8 1214.6,2269.1 1216.6,2267.8 1218.6,2266.0 1220.7,2264.0 1222.7,2262.3 1224.7,2261.2 1225.8,2258.1 1226.9,2256.1 1228.1,2253.5 1229.2,2252.1 1230.3,2249.7 1231.4,2247.8 1232.6,2245.1 1233.7,2242.8 1234.8,2240.6 1236.3,2243.3 1237.8,2245.3 1239.3,2247.5 1240.8,2250.5 1242.3,2248.1 1243.8,2246.5 1245.3,2244.1 1246.8,2242.6 1250.3,2241.6 1253.9,2240.6" fill="none" stroke="#0c1d8c" stroke-width="4" stroke-linecap="round" stroke-linejoin="round"/>
<polyline points="754.0,2345.6 755.0,2343.1 755.4,2340.6 755.8,2337.8 756.2,2335.7 756.5,2332.3 756.9,2329.5 757.3,2326.8 757.7,2323.8 758.1,2321.7 758.4,2319.4 758.8,2316.7 759.1,2313.2 759.4,2311.7 759.8,2308.8 760.1,2306.3 760.4,2303.7 760.8,2301.1 761.1,2299.2 761.4,2295.9 761.8,2293.0 762.1,2291.5 762.5,2288.2 763.0,2285.5 763.4,2283.0 763.8,2281.1 764.2,2278.0 764.7,2274.8 765.1,2272.3 765.5,2269.7 766.0,2266.8 766.4,2265.4 766.8,2262.9 767.2,2259.5 767.7,2256.8 768.1,2255.2 769.0,2252.6 769.8,2249.6 770.7,2247.1 771.6,2245.1 772.5,2241.6 773.3,2239.3 774.2,2236.0 775.5,2233.7 776.9,2230.8 778.2,2228.1 781.2,2227.2 784.3,2226.3 786.3,2225.0 788.3,2222.5 790.3,2219.8 792.3,2218.7 794.4,2217.1 796.4,2215.1 798.4,2212.3 800.4,2210.2 802.4,2208.7 803.6,2205.6 804.7,2203.0 805.9,2201.2 807.0,2198.7 808.2,2196.6 809.3,2194.0 810.5,2192.7 812.0,2194.4 813.5,2196.1 815.0,2197.9 816.5,2199.9 818.5,2202.6 820.6,2204.9 822.6,2207.0 825.6,2207.2 828.6,2206.8 830.6,2209.4 832.6,2212.3 833.8,2209.4 835.0,2207.2 836.3,2205.0 837.5,2203.2 838.7,2200.6 841.7,2201.8 844.7,2204.2 846.7,2206.1 848.8,2208.7 850.8,2211.0 852.8,2212.2 854.8,2213.7 856.8,2214.9 858.8,2216.1 860.8,2214.7 862.9,2212.9 864.9,2210.6 867.9,2210.1 870.9,2209.0 872.1,2211.3 873.3,2212.8 874.6,2216.2 875.8,2217.7 877.0,2220.0 879.0,2221.3 881.0,2222.8 883.0,2225.1 885.0,2226.6 885.9,2228.6 886.7,2231.1 887.6,2234.4 888.5,2236.6 889.4,2239.0 890.2,2242.3 891.1,2244.4 893.8,2245.3 896.4,2247.2 899.1,2249.0 902.2,2246.0 905.2,2244.6 906.2,2241.5 907.2,2239.6 908.2,2236.6 909.2,2233.7 910.2,2230.9 911.2,2227.8 914.2,2229.7 917.3,2232.3 920.3,2233.5 923.3,2234.1 923.7,2231.2 924.2,2228.9 924.6,2227.0 925.1,2223.4 925.5,2221.3 926.0,2219.1 926.4,2215.7 926.9,2212.9 927.3,2210.4 928.5,2207.4 929.6,2204.4 930.8,2201.9 931.9,2200.3 933.1,2197.4 934.2,2195.3 935.4,2191.9 938.5,2193.5 941.5,2194.0 942.5,2196.4 943.5,2199.3 944.5,2202.1 945.5,2204.6 946.5,2206.8 947.5,2208.1 948.2,2211.2 948.8,2214.1 949.5,2216.2 950.2,2219.1 950.8,2221.6 951.5,2224.7 953.0,2222.4 954.5,2219.8 956.1,2216.6 957.6,2213.6 959.1,2216.4 960.6,2219.3 962.1,2221.3 963.6,2224.6 965.2,2222.9 966.8,2220.9 968.5,2218.6 970.1,2217.1 971.7,2214.5 973.4,2216.6 975.1,2219.5 976.8,2221.7 978.4,2223.9 980.1,2226.1 981.8,2228.1 983.0,2225.6 984.2,2223.4 985.4,2221.6 986.6,2218.8 987.8,2216.1 988.7,2213.2 989.5,2211.5 990.4,2208.5 991.3,2205.9 992.2,2202.8 993.0,2201.0 993.9,2198.1 995.0,2200.6 996.2,2203.2 997.3,2205.6 998.5,2208.3 999.6,2210.9 1000.8,2213.4 1001.9,2216.7 1003.9,2218.6 1006.0,2219.7 1008.0,2220.6 1010.0,2221.9 1011.9,2220.4 1013.7,2219.6 1015.5,2218.2 1017.4,2215.4 1019.2,2213.4 1021.1,2212.8 1023.6,2213.8 1026.2,2214.5 1028.7,2215.7 1031.2,2216.6 1032.2,2218.3 1033.2,2221.6 1034.2,2222.9 1035.2,2225.4 1036.2,2227.4 1037.2,2229.6 1037.8,2227.3 1038.4,2224.9 1039.1,2223.5 1039.7,2220.8 1040.3,2218.4 1040.9,2216.2 1041.6,2213.4 1042.2,2210.4 1042.8,2207.7 1043.4,2205.0 1044.1,2203.0 1044.7,2201.1 1045.3,2199.1 1048.0,2197.4 1050.7,2195.4 1053.4,2194.7 1055.0,2192.2 1056.6,2189.5 1058.2,2187.5 1059.8,2184.6 1061.4,2182.6 1063.0,2184.6 1064.6,2187.2 1066.3,2189.2 1067.9,2191.4 1069.5,2194.5 1071.1,2197.3 1072.7,2198.7 1074.4,2201.1 1076.0,2204.3 1077.6,2207.1 1078.3,2209.4 1078.9,2212.5 1079.6,2214.7 1080.3,2217.9 1080.9,2220.0 1081.6,2222.4 1082.3,2225.6 1082.9,2228.7 1083.6,2230.3 1084.4,2227.3 1085.2,2224.9 1086.0,2222.0 1086.8,2219.4 1087.7,2217.2 1088.5,2215.4 1089.3,2212.8 1090.1,2209.4 1090.9,2206.6 1091.7,2203.9 1092.7,2207.0 1093.7,2208.8 1094.7,2210.8 1095.7,2214.1 1096.7,2216.7 1097.7,2218.7 1100.4,2219.1 1103.1,2219.3 1105.8,2220.3 1108.8,2218.2 1111.8,2216.7 1112.8,2213.7 1113.8,2212.1 1114.8,2210.1 1115.9,2207.8 1116.9,2205.4 1117.9,2202.0 1119.9,2204.5 1121.9,2206.3 1123.9,2207.7 1125.9,2209.6 1126.9,2212.8 1127.9,2215.8 1128.9,2218.0 1130.0,2220.0 1131.0,2222.2 1132.0,2225.4 1133.0,2227.7 1134.0,2229.8 1136.0,2229.3 1138.0,2227.5 1140.0,2226.3 1142.0,2224.0 1144.0,2227.0 1146.1,2228.8 1148.1,2230.0 1150.1,2228.6 1152.1,2225.9 1154.1,2224.0 1156.1,2222.5 1159.2,2225.1 1162.2,2226.8 1163.2,2223.6 1164.2,2222.1 1165.2,2219.3 1166.2,2217.5 1167.2,2214.9 1168.2,2212.6 1170.9,2213.2 1173.6,2215.2 1176.3,2216.1 1177.8,2214.6 1179.3,2212.5 1180.8,2210.8 1182.3,2209.1 1182.9,2205.6 1183.5,2203.8 1184.2,2200.6 1184.8,2197.7 1185.4,2195.4 1186.0,2193.5 1186.7,2190.6 1187.3,2188.6 1187.9,2185.8 1188.5,2184.1 1189.2,2181.5 1189.8,2179.0 1190.4,2175.6 1193.5,2176.9 1196.5,2178.5 1197.7,2176.3 1198.9,2173.0 1200.1,2171.3 1201.3,2168.3 1202.5,2166.5 1204.9,2165.3 1207.3,2164.6 1209.8,2164.0 1212.2,2163.4 1214.6,2162.3 1217.1,2159.9 1219.5,2158.6 1222.0,2156.7 1224.0,2158.2 1226.0,2160.5 1228.0,2162.7 1228.7,2165.1 1229.5,2167.6 1230.2,2169.8 1231.0,2171.7 1231.7,2174.3 1232.5,2176.2 1233.2,2179.0 1234.0,2182.1 1234.7,2184.5 1235.6,2182.1 1236.4,2179.7 1237.3,2176.7 1238.2,2174.2 1239.1,2171.8 1239.9,2169.3 1240.8,2166.0 1241.8,2168.6 1242.8,2170.8 1243.8,2173.3 1244.8,2176.2 1245.8,2179.2 1246.8,2181.9 1247.8,2184.5 1248.8,2186.7 1249.8,2189.5 1250.9,2192.9 1251.9,2195.6 1252.9,2197.7 1253.9,2200.3" fill="none" stroke="#ff2a00" stroke-width="3.9" stroke-linecap="round" stroke-linejoin="round"/>
<rect x="901" y="2078.5" width="208" height="79" rx="6" fill="none" stroke="#666" stroke-width="2.2"/>
<circle cx="938.5" cy="1978.5" r="29" fill="none" stroke="#ee0000" stroke-width="4.5"/>
<circle cx="1071" cy="1978.5" r="29" fill="none" stroke="#ff88ff" stroke-width="4"/>
<circle cx="938.5" cy="2116.5" r="29" fill="none" stroke="#0c1d8c" stroke-width="4.5"/>
<text x="938.5" y="2128.5" font-size="44" fill="#000" text-anchor="middle" stroke="#000" stroke-width="0.8">c</text>
<circle cx="1071" cy="2116.5" r="29" fill="none" stroke="#00f0f0" stroke-width="4.5"/>
<text x="1071" y="2128.5" font-size="44" fill="#000" text-anchor="middle" stroke="#000" stroke-width="0.8">e</text>
<text x="804" y="2035" font-size="26" fill="#222" text-anchor="start" textLength="46" lengthAdjust="spacingAndGlyphs" stroke="#222" stroke-width="0.4">Last</text>
<text x="804" y="2070" font-size="26" fill="#222" text-anchor="start" textLength="117" lengthAdjust="spacingAndGlyphs" stroke="#222" stroke-width="0.4">rewarded</text>
<text x="804" y="2107.5" font-size="26" fill="#222" text-anchor="start" textLength="72" lengthAdjust="spacingAndGlyphs" stroke="#222" stroke-width="0.4">target</text>
<text x="979" y="2035" font-size="26" fill="#222" text-anchor="start" textLength="48" lengthAdjust="spacingAndGlyphs" stroke="#222" stroke-width="0.4">Last</text>
<text x="979" y="2070" font-size="26" fill="#222" text-anchor="start" textLength="111" lengthAdjust="spacingAndGlyphs" stroke="#222" stroke-width="0.4">valid pair</text>
<text x="1132.5" y="2070" font-size="26" fill="#222" text-anchor="start" textLength="141" lengthAdjust="spacingAndGlyphs" stroke="#222" stroke-width="0.4">First step in</text>
<text x="1132.5" y="2104" font-size="26" fill="#222" text-anchor="start" textLength="141" lengthAdjust="spacingAndGlyphs" stroke="#222" stroke-width="0.4">exploration</text>
<line x1="880" y1="2100" x2="910" y2="2100" stroke="#aaa" stroke-width="3" stroke-linecap="butt"/>
<line x1="1100" y1="2100" x2="1132" y2="2100" stroke="#aaa" stroke-width="3" stroke-linecap="butt"/>
<line x1="912.5" y1="2140" x2="786.6012827362248" y2="2179.0720157025507" stroke="#111" stroke-width="2.2" stroke-linecap="butt"/>
<polygon points="767.5,2185.0 783.6,2169.5 789.6,2188.6" fill="#111"/>
<line x1="959" y1="2002.5" x2="991.413524651347" y2="2180.3241977400285" stroke="#111" stroke-width="2.2" stroke-linecap="butt"/>
<polygon points="995.0,2200.0 981.6,2182.1 1001.3,2178.5" fill="#111"/>
<line x1="1100" y1="1985" x2="1146.8887371631126" y2="2282.7434809857655" stroke="#111" stroke-width="2.2" stroke-linecap="butt"/>
<polygon points="1150.0,2302.5 1137.0,2284.3 1156.8,2281.2" fill="#111"/>
<line x1="1072.5" y1="2146" x2="1075.707144371502" y2="2365.002144225421" stroke="#111" stroke-width="2.2" stroke-linecap="butt"/>
<polygon points="1076.0,2385.0 1065.7,2365.1 1085.7,2364.9" fill="#111"/>
</svg></body></html>
